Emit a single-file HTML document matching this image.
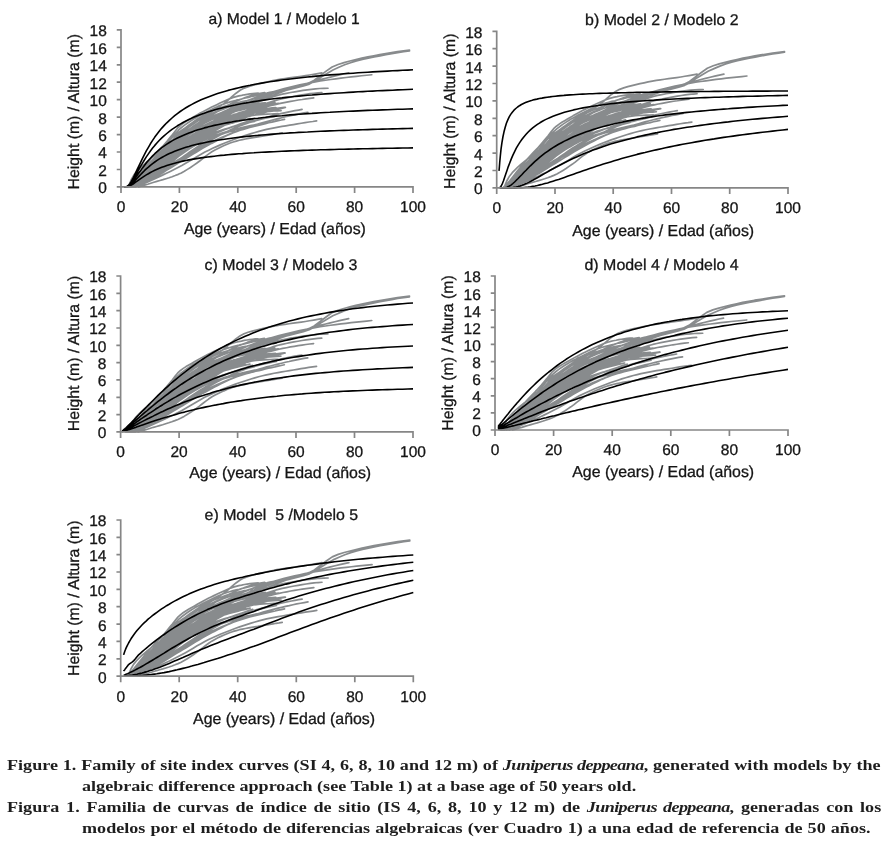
<!DOCTYPE html>
<html lang="en"><head><meta charset="utf-8"><title>Figure 1</title>
<style>
html,body{margin:0;padding:0;background:#fff;}
body{width:891px;height:852px;overflow:hidden;position:relative;font-family:"Liberation Sans",sans-serif;}
svg{position:absolute;left:0;top:0;display:block;will-change:transform;}
svg text{font-family:"Liberation Sans",sans-serif;font-size:15.7px;fill:#151515;stroke:#151515;stroke-width:0.3px;text-rendering:geometricPrecision;}
.tk{font-size:15.5px;}.tt{font-size:15.5px;}.xl{font-size:15.9px;}.yl{font-size:15.8px;}
.cl{position:absolute;white-space:nowrap;font-family:"Liberation Serif",serif;font-weight:bold;font-size:15px;line-height:21px;height:21px;color:#1e1e1e;transform-origin:0 0;transform:scaleX(1.2067);}
.cl i{font-style:italic;letter-spacing:-0.5px;}
</style></head><body>
<svg width="891" height="852" viewBox="0 0 891 852">
<rect width="891" height="852" fill="#fff"/>
<defs><path id="gd" d="M3.00,-0.00L5.04,-0.47L7.08,-0.96L9.11,-1.47L11.15,-2.01L13.19,-2.60L15.23,-3.21L17.27,-3.82L19.31,-4.41L21.34,-4.97L23.38,-5.54L25.42,-6.09L27.46,-6.61L29.50,-7.09L31.54,-7.52L33.57,-7.91L35.61,-8.28L37.65,-8.62L39.69,-8.95L41.73,-9.26L43.77,-9.56L45.80,-9.84L47.84,-10.11L49.88,-10.38L51.92,-10.67L53.96,-10.96L56.00,-11.20L58.03,-11.37L60.07,-11.52L62.11,-11.70L64.15,-11.89L66.19,-12.23L68.23,-12.75L70.26,-13.27L72.30,-13.75L74.34,-14.04L76.38,-14.25L78.42,-14.43L80.46,-14.60L82.49,-14.76L84.53,-14.91L86.57,-15.04L88.61,-15.17L90.65,-15.28L92.69,-15.39L94.72,-15.50L96.76,-15.59L98.80,-15.68 M4.00,-0.00L6.02,-0.40L8.03,-0.84L10.05,-1.31L12.07,-1.84L14.09,-2.43L16.10,-3.04L18.12,-3.65L20.14,-4.24L22.15,-4.81L24.17,-5.39L26.19,-5.95L28.20,-6.47L30.22,-6.95L32.24,-7.38L34.26,-7.78L36.27,-8.16L38.29,-8.52L40.31,-8.85L42.32,-9.16L44.34,-9.44L46.36,-9.71L48.37,-9.98L50.39,-10.25L52.41,-10.54L54.43,-10.81L56.44,-11.05L58.46,-11.23L60.48,-11.40L62.49,-11.58L64.51,-11.79L66.53,-12.13L68.54,-12.59L70.56,-13.01L72.58,-13.40L74.60,-13.71L76.61,-14.00L78.63,-14.24L80.65,-14.44L82.66,-14.61L84.68,-14.76L86.70,-14.90L88.71,-15.03L90.73,-15.16L92.75,-15.28L94.77,-15.40L96.78,-15.50L98.80,-15.60 M3.00,-0.00L4.40,-0.50L5.80,-1.01L7.20,-1.51L8.60,-2.00L10.00,-2.50L11.40,-3.00L12.80,-3.52L14.20,-4.04L15.60,-4.55L17.00,-5.05L18.40,-5.51L19.80,-5.94L21.20,-6.33L22.60,-6.69L24.00,-7.04L25.40,-7.36L26.80,-7.68L28.20,-7.99L29.60,-8.31L31.00,-8.62L32.40,-8.92L33.80,-9.23L35.20,-9.55L36.60,-9.92L38.00,-10.34L39.40,-10.74L40.80,-11.08L42.20,-11.33L43.60,-11.50L45.00,-11.64L46.40,-11.76L47.80,-11.87L49.20,-11.98L50.60,-12.08L52.00,-12.18L53.40,-12.27L54.80,-12.35L56.20,-12.42L57.60,-12.49L59.00,-12.55L60.40,-12.62L61.80,-12.68L63.20,-12.75L64.60,-12.83L66.00,-12.91L67.40,-12.99L68.80,-13.08 M4.00,-0.00L5.57,-0.47L7.15,-0.94L8.72,-1.42L10.30,-1.89L11.87,-2.37L13.45,-2.86L15.02,-3.35L16.60,-3.83L18.17,-4.29L19.74,-4.73L21.32,-5.15L22.89,-5.55L24.47,-5.94L26.04,-6.32L27.62,-6.68L29.19,-7.03L30.77,-7.36L32.34,-7.69L33.91,-8.00L35.49,-8.31L37.06,-8.60L38.64,-8.87L40.21,-9.13L41.79,-9.38L43.36,-9.62L44.94,-9.85L46.51,-10.06L48.09,-10.27L49.66,-10.46L51.23,-10.64L52.81,-10.81L54.38,-10.96L55.96,-11.11L57.53,-11.26L59.11,-11.41L60.68,-11.57L62.26,-11.73L63.83,-11.88L65.40,-12.04L66.98,-12.18L68.55,-12.32L70.13,-12.46L71.70,-12.59L73.28,-12.72L74.85,-12.85L76.43,-12.97L78.00,-13.08 M3.00,-0.00L4.76,-0.48L6.53,-0.98L8.29,-1.49L10.06,-2.02L11.82,-2.57L13.58,-3.16L15.35,-3.75L17.11,-4.33L18.87,-4.88L20.64,-5.37L22.40,-5.84L24.17,-6.28L25.93,-6.71L27.69,-7.11L29.46,-7.49L31.22,-7.85L32.99,-8.19L34.75,-8.52L36.51,-8.84L38.28,-9.13L40.04,-9.41L41.80,-9.67L43.57,-9.91L45.33,-10.15L47.10,-10.37L48.86,-10.58L50.62,-10.77L52.39,-10.94L54.15,-11.11L55.91,-11.27L57.68,-11.42L59.44,-11.56L61.21,-11.69L62.97,-11.81L64.73,-11.93L66.50,-12.04L68.26,-12.14L70.03,-12.23L71.79,-12.31L73.55,-12.39L75.32,-12.47L77.08,-12.54L78.84,-12.61L80.61,-12.68L82.37,-12.74L84.14,-12.80L85.90,-12.86 M4.00,-0.00L5.42,-0.33L6.85,-0.68L8.27,-1.04L9.69,-1.42L11.12,-1.81L12.54,-2.23L13.96,-2.67L15.39,-3.12L16.81,-3.56L18.23,-4.00L19.66,-4.41L21.08,-4.79L22.50,-5.18L23.93,-5.55L25.35,-5.92L26.77,-6.27L28.20,-6.60L29.62,-6.92L31.04,-7.22L32.47,-7.50L33.89,-7.77L35.31,-8.03L36.74,-8.28L38.16,-8.51L39.59,-8.74L41.01,-8.95L42.43,-9.15L43.86,-9.35L45.28,-9.54L46.70,-9.72L48.13,-9.89L49.55,-10.05L50.97,-10.21L52.40,-10.37L53.82,-10.51L55.24,-10.64L56.67,-10.73L58.09,-10.82L59.51,-10.90L60.94,-10.98L62.36,-11.06L63.78,-11.13L65.21,-11.19L66.63,-11.24L68.05,-11.28L69.48,-11.30L70.90,-11.31 M5.00,-0.00L6.36,-0.24L7.71,-0.51L9.07,-0.79L10.43,-1.10L11.79,-1.44L13.14,-1.82L14.50,-2.21L15.86,-2.61L17.22,-3.02L18.57,-3.41L19.93,-3.78L21.29,-4.14L22.65,-4.50L24.00,-4.85L25.36,-5.19L26.72,-5.53L28.08,-5.86L29.43,-6.17L30.79,-6.48L32.15,-6.77L33.51,-7.07L34.86,-7.35L36.22,-7.63L37.58,-7.88L38.94,-8.13L40.29,-8.35L41.65,-8.55L43.01,-8.75L44.37,-8.93L45.72,-9.10L47.08,-9.27L48.44,-9.43L49.80,-9.58L51.15,-9.72L52.51,-9.87L53.87,-10.00L55.23,-10.11L56.58,-10.21L57.94,-10.30L59.30,-10.39L60.66,-10.47L62.01,-10.55L63.37,-10.62L64.73,-10.69L66.09,-10.74L67.44,-10.79L68.80,-10.82 M4.00,-0.00L5.32,-0.24L6.64,-0.49L7.96,-0.76L9.28,-1.04L10.60,-1.34L11.91,-1.67L13.23,-2.02L14.55,-2.40L15.87,-2.77L17.19,-3.15L18.51,-3.51L19.83,-3.86L21.15,-4.18L22.47,-4.51L23.79,-4.83L25.11,-5.14L26.43,-5.44L27.74,-5.74L29.06,-6.01L30.38,-6.27L31.70,-6.52L33.02,-6.77L34.34,-7.00L35.66,-7.22L36.98,-7.44L38.30,-7.64L39.62,-7.84L40.94,-8.04L42.26,-8.23L43.57,-8.42L44.89,-8.60L46.21,-8.78L47.53,-8.94L48.85,-9.08L50.17,-9.22L51.49,-9.33L52.81,-9.44L54.13,-9.54L55.45,-9.64L56.77,-9.72L58.09,-9.81L59.40,-9.88L60.72,-9.96L62.04,-10.02L63.36,-10.09L64.68,-10.15L66.00,-10.20 M5.00,-0.00L6.21,-0.21L7.43,-0.42L8.64,-0.64L9.85,-0.87L11.06,-1.11L12.28,-1.35L13.49,-1.60L14.70,-1.86L15.91,-2.12L17.13,-2.38L18.34,-2.64L19.55,-2.90L20.77,-3.17L21.98,-3.44L23.19,-3.71L24.40,-3.99L25.62,-4.27L26.83,-4.54L28.04,-4.80L29.26,-5.05L30.47,-5.29L31.68,-5.52L32.89,-5.75L34.11,-5.97L35.32,-6.18L36.53,-6.38L37.74,-6.57L38.96,-6.76L40.17,-6.92L41.38,-7.08L42.60,-7.23L43.81,-7.37L45.02,-7.51L46.23,-7.64L47.45,-7.76L48.66,-7.88L49.87,-7.99L51.09,-8.10L52.30,-8.20L53.51,-8.30L54.72,-8.40L55.94,-8.49L57.15,-8.58L58.36,-8.66L59.57,-8.74L60.79,-8.81L62.00,-8.88 M4.00,-0.00L5.28,-0.19L6.55,-0.40L7.83,-0.61L9.11,-0.84L10.38,-1.07L11.66,-1.33L12.94,-1.61L14.21,-1.90L15.49,-2.20L16.77,-2.50L18.04,-2.79L19.32,-3.06L20.60,-3.32L21.87,-3.57L23.15,-3.81L24.43,-4.05L25.70,-4.28L26.98,-4.50L28.26,-4.72L29.53,-4.93L30.81,-5.13L32.09,-5.32L33.36,-5.51L34.64,-5.69L35.91,-5.87L37.19,-6.04L38.47,-6.21L39.74,-6.37L41.02,-6.53L42.30,-6.68L43.57,-6.83L44.85,-6.97L46.13,-7.12L47.40,-7.25L48.68,-7.38L49.96,-7.50L51.23,-7.61L52.51,-7.72L53.79,-7.83L55.06,-7.93L56.34,-8.04L57.62,-8.13L58.89,-8.23L60.17,-8.32L61.45,-8.40L62.72,-8.48L64.00,-8.55 M5.00,-0.00L6.32,-0.18L7.64,-0.36L8.96,-0.55L10.28,-0.74L11.60,-0.94L12.91,-1.14L14.23,-1.35L15.55,-1.56L16.87,-1.77L18.19,-1.99L19.51,-2.22L20.83,-2.45L22.15,-2.70L23.47,-2.96L24.79,-3.22L26.11,-3.49L27.43,-3.74L28.74,-3.99L30.06,-4.21L31.38,-4.42L32.70,-4.62L34.02,-4.82L35.34,-5.00L36.66,-5.18L37.98,-5.35L39.30,-5.52L40.62,-5.67L41.94,-5.82L43.26,-5.97L44.57,-6.11L45.89,-6.24L47.21,-6.37L48.53,-6.48L49.85,-6.59L51.17,-6.68L52.49,-6.77L53.81,-6.85L55.13,-6.93L56.45,-7.00L57.77,-7.08L59.09,-7.15L60.40,-7.22L61.72,-7.30L63.04,-7.37L64.36,-7.44L65.68,-7.50L67.00,-7.57 M6.00,-0.00L7.05,-0.10L8.09,-0.21L9.14,-0.31L10.19,-0.42L11.23,-0.53L12.28,-0.63L13.33,-0.73L14.37,-0.83L15.42,-0.94L16.47,-1.05L17.51,-1.17L18.56,-1.30L19.61,-1.44L20.66,-1.60L21.70,-1.79L22.75,-2.01L23.80,-2.23L24.84,-2.47L25.89,-2.71L26.94,-2.97L27.98,-3.25L29.03,-3.53L30.08,-3.79L31.12,-4.03L32.17,-4.23L33.22,-4.41L34.26,-4.58L35.31,-4.74L36.36,-4.89L37.40,-5.03L38.45,-5.15L39.50,-5.25L40.54,-5.35L41.59,-5.42L42.64,-5.49L43.69,-5.56L44.73,-5.62L45.78,-5.68L46.83,-5.73L47.87,-5.79L48.92,-5.85L49.97,-5.91L51.01,-5.97L52.06,-6.03L53.11,-6.09L54.15,-6.14L55.20,-6.20 M3.00,-0.00L3.98,-0.30L4.97,-0.60L5.95,-0.91L6.93,-1.22L7.91,-1.53L8.90,-1.84L9.88,-2.16L10.86,-2.49L11.85,-2.83L12.83,-3.18L13.81,-3.53L14.80,-3.88L15.78,-4.23L16.76,-4.58L17.74,-4.91L18.73,-5.22L19.71,-5.52L20.69,-5.79L21.68,-6.06L22.66,-6.31L23.64,-6.56L24.63,-6.80L25.61,-7.03L26.59,-7.25L27.57,-7.48L28.56,-7.69L29.54,-7.90L30.52,-8.11L31.51,-8.32L32.49,-8.53L33.47,-8.73L34.46,-8.93L35.44,-9.12L36.42,-9.31L37.40,-9.49L38.39,-9.65L39.37,-9.81L40.35,-9.95L41.34,-10.08L42.32,-10.21L43.30,-10.33L44.29,-10.44L45.27,-10.54L46.25,-10.62L47.23,-10.69L48.22,-10.75L49.20,-10.80 M5.00,-0.00L6.09,-0.16L7.17,-0.33L8.26,-0.50L9.34,-0.69L10.43,-0.88L11.51,-1.08L12.60,-1.28L13.68,-1.50L14.77,-1.72L15.85,-1.95L16.94,-2.17L18.02,-2.40L19.11,-2.62L20.19,-2.84L21.28,-3.06L22.36,-3.28L23.45,-3.51L24.53,-3.73L25.62,-3.95L26.70,-4.17L27.79,-4.39L28.87,-4.59L29.96,-4.79L31.04,-4.99L32.13,-5.18L33.21,-5.37L34.30,-5.56L35.38,-5.74L36.47,-5.92L37.55,-6.08L38.64,-6.23L39.72,-6.37L40.81,-6.49L41.89,-6.60L42.98,-6.71L44.06,-6.81L45.15,-6.91L46.23,-7.00L47.32,-7.08L48.40,-7.17L49.49,-7.26L50.57,-7.35L51.66,-7.43L52.74,-7.51L53.83,-7.60L54.91,-7.67L56.00,-7.75 M2.50,-0.00L3.45,-0.79L4.39,-1.35L5.34,-1.75L6.29,-2.08L7.23,-2.38L8.18,-2.66L9.13,-2.94L10.07,-3.18L11.02,-3.46L11.97,-3.78L12.91,-4.13L13.86,-4.49L14.81,-4.86L15.76,-5.23L16.70,-5.62L17.65,-6.00L18.60,-6.41L19.54,-6.80L20.49,-7.09L21.44,-7.33L22.38,-7.54L23.33,-7.73L24.28,-7.91L25.22,-8.09L26.17,-8.28L27.12,-8.46L28.06,-8.63L29.01,-8.80L29.96,-8.97L30.90,-9.12L31.85,-9.28L32.80,-9.43L33.74,-9.58L34.69,-9.73L35.64,-9.88L36.59,-10.02L37.53,-10.15L38.48,-10.26L39.43,-10.35L40.37,-10.43L41.32,-10.49L42.27,-10.56L43.21,-10.61L44.16,-10.66L45.11,-10.70L46.05,-10.73L47.00,-10.75 M3.00,-0.00L4.04,-0.55L5.09,-1.04L6.13,-1.45L7.17,-1.83L8.21,-2.18L9.26,-2.54L10.30,-2.91L11.34,-3.28L12.38,-3.65L13.43,-4.02L14.47,-4.40L15.51,-4.80L16.55,-5.24L17.60,-5.69L18.64,-6.12L19.68,-6.50L20.72,-6.81L21.77,-7.08L22.81,-7.33L23.85,-7.56L24.89,-7.78L25.94,-7.99L26.98,-8.18L28.02,-8.37L29.06,-8.54L30.11,-8.72L31.15,-8.89L32.19,-9.06L33.23,-9.23L34.28,-9.38L35.32,-9.52L36.36,-9.64L37.40,-9.75L38.45,-9.85L39.49,-9.94L40.53,-10.02L41.57,-10.11L42.62,-10.19L43.66,-10.27L44.70,-10.36L45.74,-10.44L46.79,-10.52L47.83,-10.60L48.87,-10.68L49.91,-10.75L50.96,-10.83L52.00,-10.90 M3.00,-0.00L3.89,-0.29L4.79,-0.59L5.68,-0.89L6.57,-1.20L7.47,-1.50L8.36,-1.82L9.26,-2.13L10.15,-2.45L11.04,-2.79L11.94,-3.12L12.83,-3.47L13.72,-3.81L14.62,-4.15L15.51,-4.50L16.40,-4.85L17.30,-5.21L18.19,-5.57L19.09,-5.90L19.98,-6.19L20.87,-6.46L21.77,-6.71L22.66,-6.94L23.55,-7.16L24.45,-7.37L25.34,-7.58L26.23,-7.78L27.13,-7.97L28.02,-8.15L28.91,-8.32L29.81,-8.47L30.70,-8.61L31.60,-8.74L32.49,-8.87L33.38,-8.99L34.28,-9.10L35.17,-9.21L36.06,-9.31L36.96,-9.40L37.85,-9.49L38.74,-9.57L39.64,-9.64L40.53,-9.71L41.43,-9.78L42.32,-9.85L43.21,-9.90L44.11,-9.96L45.00,-10.00 M1.97,-0.00L3.13,-0.19L4.29,-0.50L5.45,-0.87L6.61,-1.26L7.77,-1.66L8.94,-2.07L10.10,-2.48L11.26,-2.88L12.42,-3.27L13.58,-3.65L14.74,-4.01L15.91,-4.36L17.07,-4.70L18.23,-5.02L19.39,-5.34L20.55,-5.63L21.72,-5.92L22.88,-6.19L24.04,-6.45L25.20,-6.70L26.36,-6.93L27.52,-7.16L28.69,-7.37L29.85,-7.57L31.01,-7.76L32.17,-7.93L33.33,-8.10L34.49,-8.25L35.66,-8.39L36.82,-8.53L37.98,-8.65L39.14,-8.76L40.30,-8.86L41.47,-8.96L42.63,-9.04L43.79,-9.12L44.95,-9.19L46.11,-9.25L47.27,-9.31L48.44,-9.37L49.60,-9.42 M2.10,-0.00L3.28,-0.37L4.46,-0.83L5.63,-1.32L6.81,-1.82L7.99,-2.30L9.16,-2.78L10.34,-3.25L11.52,-3.69L12.69,-4.12L13.87,-4.53L15.05,-4.91L16.22,-5.28L17.40,-5.62L18.58,-5.94L19.75,-6.25L20.93,-6.53L22.11,-6.79L23.28,-7.04L24.46,-7.26L25.64,-7.48L26.81,-7.68L27.99,-7.87L29.17,-8.06L30.34,-8.24L31.52,-8.42L32.70,-8.58L33.87,-8.75L35.05,-8.91L36.23,-9.07L37.40,-9.22L38.58,-9.37L39.76,-9.51L40.93,-9.65L42.11,-9.79L43.29,-9.91L44.46,-10.04L45.64,-10.16L46.81,-10.27L47.99,-10.37L49.17,-10.47L50.34,-10.55 M3.39,-0.00L4.51,-0.20L5.63,-0.51L6.75,-0.85L7.86,-1.21L8.98,-1.58L10.10,-1.95L11.21,-2.32L12.33,-2.68L13.45,-3.03L14.56,-3.38L15.68,-3.71L16.80,-4.03L17.92,-4.34L19.03,-4.64L20.15,-4.92L21.27,-5.20L22.38,-5.46L23.50,-5.71L24.62,-5.96L25.73,-6.19L26.85,-6.41L27.97,-6.62L29.09,-6.82L30.20,-7.01L31.32,-7.19L32.44,-7.36L33.55,-7.52L34.67,-7.67L35.79,-7.81L36.90,-7.94L38.02,-8.06L39.14,-8.18L40.26,-8.29L41.37,-8.39L42.49,-8.48L43.61,-8.57L44.72,-8.65L45.84,-8.72L46.96,-8.79L48.07,-8.86L49.19,-8.92 M1.79,-0.00L2.71,-0.05L3.62,-0.16L4.54,-0.32L5.45,-0.51L6.37,-0.73L7.28,-0.98L8.20,-1.23L9.11,-1.50L10.03,-1.77L10.94,-2.05L11.86,-2.32L12.77,-2.60L13.69,-2.87L14.60,-3.14L15.51,-3.41L16.43,-3.67L17.34,-3.93L18.26,-4.17L19.17,-4.42L20.09,-4.65L21.00,-4.89L21.92,-5.11L22.83,-5.33L23.75,-5.54L24.66,-5.75L25.58,-5.95L26.49,-6.14L27.40,-6.33L28.32,-6.50L29.23,-6.67L30.15,-6.84L31.06,-6.99L31.98,-7.13L32.89,-7.27L33.81,-7.40L34.72,-7.52L35.64,-7.63L36.55,-7.73L37.47,-7.83L38.38,-7.92L39.30,-8.00 M3.98,-0.00L4.99,-0.05L6.01,-0.18L7.03,-0.36L8.05,-0.58L9.07,-0.82L10.09,-1.09L11.11,-1.37L12.13,-1.66L13.15,-1.96L14.17,-2.26L15.19,-2.56L16.21,-2.86L17.23,-3.15L18.25,-3.44L19.27,-3.71L20.29,-3.98L21.31,-4.24L22.33,-4.48L23.35,-4.72L24.37,-4.94L25.39,-5.15L26.41,-5.35L27.42,-5.53L28.44,-5.70L29.46,-5.86L30.48,-6.01L31.50,-6.15L32.52,-6.28L33.54,-6.40L34.56,-6.52L35.58,-6.63L36.60,-6.73L37.62,-6.83L38.64,-6.93L39.66,-7.02L40.68,-7.11L41.70,-7.20L42.72,-7.28L43.74,-7.36L44.76,-7.44L45.78,-7.52 M2.15,-0.00L3.19,-0.02L4.24,-0.08L5.29,-0.19L6.34,-0.34L7.39,-0.51L8.43,-0.72L9.48,-0.95L10.53,-1.19L11.58,-1.45L12.63,-1.72L13.67,-2.00L14.72,-2.28L15.77,-2.57L16.82,-2.85L17.87,-3.13L18.91,-3.41L19.96,-3.68L21.01,-3.94L22.06,-4.19L23.11,-4.44L24.15,-4.67L25.20,-4.89L26.25,-5.11L27.30,-5.30L28.35,-5.49L29.39,-5.67L30.44,-5.84L31.49,-6.00L32.54,-6.15L33.59,-6.30L34.63,-6.44L35.68,-6.58L36.73,-6.72L37.78,-6.85L38.83,-6.97L39.87,-7.10L40.92,-7.22L41.97,-7.34L43.02,-7.46L44.06,-7.58L45.11,-7.69 M1.84,-0.00L2.74,-0.01L3.65,-0.03L4.55,-0.08L5.45,-0.15L6.36,-0.24L7.26,-0.36L8.16,-0.50L9.07,-0.65L9.97,-0.82L10.87,-1.01L11.78,-1.20L12.68,-1.40L13.58,-1.61L14.49,-1.82L15.39,-2.04L16.29,-2.26L17.20,-2.48L18.10,-2.70L19.00,-2.92L19.91,-3.14L20.81,-3.36L21.72,-3.58L22.62,-3.79L23.52,-4.00L24.43,-4.21L25.33,-4.41L26.23,-4.61L27.14,-4.80L28.04,-4.99L28.94,-5.17L29.85,-5.33L30.75,-5.49L31.65,-5.64L32.56,-5.78L33.46,-5.91L34.36,-6.02L35.27,-6.13L36.17,-6.23L37.07,-6.32L37.98,-6.40L38.88,-6.47 M2.55,-0.00L3.49,-0.10L4.42,-0.29L5.35,-0.54L6.28,-0.82L7.21,-1.12L8.14,-1.44L9.07,-1.77L10.00,-2.10L10.94,-2.44L11.87,-2.77L12.80,-3.10L13.73,-3.43L14.66,-3.75L15.59,-4.06L16.52,-4.36L17.46,-4.65L18.39,-4.94L19.32,-5.21L20.25,-5.47L21.18,-5.73L22.11,-5.97L23.04,-6.20L23.98,-6.43L24.91,-6.64L25.84,-6.84L26.77,-7.04L27.70,-7.22L28.63,-7.40L29.56,-7.57L30.50,-7.73L31.43,-7.89L32.36,-8.03L33.29,-8.18L34.22,-8.31L35.15,-8.44L36.08,-8.56L37.02,-8.68L37.95,-8.79L38.88,-8.90L39.81,-9.01L40.74,-9.10 M3.13,-0.00L4.25,-0.03L5.36,-0.13L6.48,-0.29L7.59,-0.48L8.71,-0.70L9.82,-0.96L10.94,-1.22L12.05,-1.50L13.16,-1.79L14.28,-2.09L15.39,-2.38L16.51,-2.68L17.62,-2.97L18.74,-3.25L19.85,-3.53L20.97,-3.80L22.08,-4.06L23.19,-4.31L24.31,-4.55L25.42,-4.77L26.54,-4.99L27.65,-5.19L28.77,-5.38L29.88,-5.55L31.00,-5.72L32.11,-5.87L33.22,-6.01L34.34,-6.14L35.45,-6.26L36.57,-6.38L37.68,-6.49L38.80,-6.59L39.91,-6.68L41.03,-6.77L42.14,-6.86L43.25,-6.94L44.37,-7.02L45.48,-7.10L46.60,-7.18L47.71,-7.25L48.83,-7.32 M2.41,-0.00L3.60,-0.15L4.80,-0.41L6.00,-0.73L7.19,-1.09L8.39,-1.47L9.59,-1.86L10.79,-2.27L11.98,-2.67L13.18,-3.07L14.38,-3.47L15.57,-3.86L16.77,-4.23L17.97,-4.60L19.17,-4.94L20.36,-5.27L21.56,-5.58L22.76,-5.88L23.95,-6.15L25.15,-6.40L26.35,-6.63L27.55,-6.84L28.74,-7.03L29.94,-7.21L31.14,-7.37L32.33,-7.52L33.53,-7.66L34.73,-7.79L35.93,-7.92L37.12,-8.04L38.32,-8.16L39.52,-8.27L40.72,-8.38L41.91,-8.50L43.11,-8.61L44.31,-8.72L45.50,-8.84L46.70,-8.95L47.90,-9.07L49.10,-9.19L50.29,-9.30L51.49,-9.42 M2.28,-0.00L3.35,-0.29L4.42,-0.67L5.50,-1.07L6.57,-1.48L7.65,-1.89L8.72,-2.30L9.79,-2.70L10.87,-3.09L11.94,-3.46L13.01,-3.83L14.09,-4.18L15.16,-4.51L16.23,-4.83L17.31,-5.14L18.38,-5.43L19.46,-5.71L20.53,-5.97L21.60,-6.23L22.68,-6.47L23.75,-6.70L24.82,-6.92L25.90,-7.13L26.97,-7.33L28.04,-7.52L29.12,-7.71L30.19,-7.89L31.26,-8.06L32.34,-8.23L33.41,-8.39L34.49,-8.54L35.56,-8.69L36.63,-8.83L37.71,-8.97L38.78,-9.10L39.85,-9.22L40.93,-9.34L42.00,-9.45L43.07,-9.56L44.15,-9.66L45.22,-9.75L46.29,-9.84 M3.48,-0.00L4.76,-0.08L6.05,-0.27L7.34,-0.53L8.63,-0.85L9.92,-1.20L11.21,-1.57L12.49,-1.96L13.78,-2.36L15.07,-2.76L16.36,-3.16L17.65,-3.55L18.94,-3.93L20.22,-4.30L21.51,-4.65L22.80,-4.98L24.09,-5.30L25.38,-5.59L26.67,-5.87L27.96,-6.12L29.24,-6.35L30.53,-6.56L31.82,-6.75L33.11,-6.94L34.40,-7.10L35.69,-7.26L36.97,-7.41L38.26,-7.55L39.55,-7.68L40.84,-7.80L42.13,-7.92L43.42,-8.04L44.70,-8.16L45.99,-8.27L47.28,-8.38L48.57,-8.49L49.86,-8.60L51.15,-8.70L52.43,-8.81L53.72,-8.91L55.01,-9.01L56.30,-9.11 M3.24,-0.00L4.20,-0.07L5.16,-0.21L6.11,-0.41L7.07,-0.64L8.03,-0.90L8.99,-1.17L9.95,-1.45L10.91,-1.74L11.87,-2.03L12.83,-2.32L13.79,-2.61L14.75,-2.89L15.71,-3.17L16.67,-3.44L17.63,-3.70L18.59,-3.95L19.55,-4.20L20.51,-4.44L21.47,-4.68L22.43,-4.91L23.39,-5.12L24.35,-5.34L25.31,-5.54L26.27,-5.74L27.23,-5.93L28.19,-6.12L29.15,-6.30L30.11,-6.46L31.07,-6.62L32.03,-6.77L32.99,-6.91L33.95,-7.05L34.91,-7.17L35.87,-7.28L36.83,-7.39L37.79,-7.49L38.75,-7.58L39.71,-7.66L40.67,-7.73L41.63,-7.80L42.59,-7.86 M2.14,-0.00L3.17,-0.06L4.19,-0.19L5.22,-0.39L6.25,-0.62L7.27,-0.89L8.30,-1.18L9.32,-1.49L10.35,-1.81L11.38,-2.13L12.40,-2.44L13.43,-2.76L14.46,-3.07L15.48,-3.37L16.51,-3.67L17.54,-3.95L18.56,-4.22L19.59,-4.48L20.62,-4.73L21.64,-4.96L22.67,-5.18L23.70,-5.39L24.72,-5.58L25.75,-5.77L26.77,-5.94L27.80,-6.10L28.83,-6.25L29.85,-6.40L30.88,-6.53L31.91,-6.66L32.93,-6.78L33.96,-6.90L34.99,-7.01L36.01,-7.12L37.04,-7.22L38.07,-7.32L39.09,-7.41L40.12,-7.50L41.14,-7.59L42.17,-7.67L43.20,-7.75L44.22,-7.83 M2.00,-0.00L3.32,-0.11L4.63,-0.35L5.95,-0.67L7.27,-1.03L8.58,-1.42L9.90,-1.83L11.21,-2.25L12.53,-2.66L13.85,-3.07L15.16,-3.46L16.48,-3.84L17.79,-4.20L19.11,-4.55L20.43,-4.87L21.74,-5.18L23.06,-5.47L24.38,-5.74L25.69,-5.99L27.01,-6.23L28.32,-6.46L29.64,-6.68L30.96,-6.88L32.27,-7.08L33.59,-7.26L34.90,-7.43L36.22,-7.59L37.54,-7.75L38.85,-7.89L40.17,-8.03L41.49,-8.16L42.80,-8.28L44.12,-8.39L45.43,-8.50L46.75,-8.60L48.07,-8.69L49.38,-8.78L50.70,-8.86L52.01,-8.93L53.33,-9.00L54.65,-9.06L55.96,-9.12 M2.04,-0.00L2.97,-0.15L3.91,-0.38L4.85,-0.65L5.79,-0.95L6.73,-1.25L7.67,-1.57L8.61,-1.88L9.54,-2.20L10.48,-2.51L11.42,-2.82L12.36,-3.12L13.30,-3.41L14.24,-3.70L15.18,-3.98L16.11,-4.25L17.05,-4.52L17.99,-4.78L18.93,-5.04L19.87,-5.28L20.81,-5.53L21.75,-5.76L22.68,-6.00L23.62,-6.22L24.56,-6.44L25.50,-6.66L26.44,-6.87L27.38,-7.08L28.32,-7.28L29.26,-7.48L30.19,-7.66L31.13,-7.84L32.07,-8.01L33.01,-8.17L33.95,-8.32L34.89,-8.46L35.83,-8.59L36.76,-8.72L37.70,-8.84L38.64,-8.94L39.58,-9.04L40.52,-9.13 M2.39,-0.00L3.61,-0.09L4.82,-0.29L6.04,-0.55L7.26,-0.85L8.48,-1.18L9.70,-1.53L10.92,-1.89L12.14,-2.25L13.36,-2.61L14.58,-2.98L15.80,-3.34L17.02,-3.70L18.24,-4.05L19.46,-4.39L20.68,-4.73L21.90,-5.05L23.12,-5.36L24.34,-5.66L25.56,-5.95L26.78,-6.22L28.00,-6.48L29.22,-6.71L30.44,-6.93L31.66,-7.13L32.88,-7.31L34.10,-7.48L35.32,-7.64L36.54,-7.78L37.76,-7.91L38.98,-8.02L40.19,-8.13L41.41,-8.23L42.63,-8.31L43.85,-8.40L45.07,-8.47L46.29,-8.54L47.51,-8.61L48.73,-8.67L49.95,-8.73L51.17,-8.80L52.39,-8.86 M3.14,-0.00L4.18,-0.18L5.22,-0.47L6.27,-0.82L7.31,-1.19L8.35,-1.58L9.40,-1.97L10.44,-2.37L11.48,-2.77L12.52,-3.16L13.57,-3.55L14.61,-3.92L15.65,-4.29L16.70,-4.65L17.74,-4.99L18.78,-5.33L19.83,-5.64L20.87,-5.95L21.91,-6.24L22.95,-6.51L24.00,-6.77L25.04,-7.02L26.08,-7.24L27.13,-7.45L28.17,-7.65L29.21,-7.81L30.25,-7.97L31.30,-8.10L32.34,-8.23L33.38,-8.35L34.43,-8.45L35.47,-8.55L36.51,-8.63L37.56,-8.71L38.60,-8.79L39.64,-8.86L40.68,-8.92L41.73,-8.98L42.77,-9.04L43.81,-9.10L44.86,-9.15L45.90,-9.21 M3.87,-0.00L4.76,-0.12L5.65,-0.32L6.54,-0.58L7.43,-0.86L8.32,-1.16L9.21,-1.47L10.10,-1.79L10.99,-2.11L11.88,-2.44L12.78,-2.77L13.67,-3.09L14.56,-3.41L15.45,-3.73L16.34,-4.05L17.23,-4.37L18.12,-4.68L19.01,-4.99L19.90,-5.29L20.79,-5.59L21.68,-5.88L22.57,-6.17L23.47,-6.45L24.36,-6.73L25.25,-6.99L26.14,-7.24L27.03,-7.49L27.92,-7.72L28.81,-7.93L29.70,-8.13L30.59,-8.30L31.48,-8.47L32.37,-8.61L33.27,-8.75L34.16,-8.87L35.05,-8.98L35.94,-9.07L36.83,-9.16L37.72,-9.24L38.61,-9.31L39.50,-9.37L40.39,-9.43 M3.70,-0.00L4.85,-0.02L6.01,-0.11L7.16,-0.26L8.31,-0.45L9.47,-0.69L10.62,-0.96L11.77,-1.25L12.93,-1.56L14.08,-1.88L15.23,-2.21L16.39,-2.55L17.54,-2.88L18.70,-3.21L19.85,-3.52L21.00,-3.83L22.16,-4.13L23.31,-4.41L24.46,-4.67L25.62,-4.91L26.77,-5.14L27.92,-5.34L29.08,-5.52L30.23,-5.68L31.39,-5.82L32.54,-5.95L33.69,-6.07L34.85,-6.18L36.00,-6.28L37.15,-6.37L38.31,-6.46L39.46,-6.55L40.62,-6.63L41.77,-6.71L42.92,-6.79L44.08,-6.88L45.23,-6.97L46.38,-7.05L47.54,-7.15L48.69,-7.24L49.84,-7.33L51.00,-7.43 M2.15,-0.00L3.42,-0.13L4.68,-0.40L5.94,-0.75L7.21,-1.15L8.47,-1.58L9.73,-2.02L11.00,-2.47L12.26,-2.91L13.52,-3.35L14.79,-3.78L16.05,-4.19L17.31,-4.59L18.57,-4.97L19.84,-5.33L21.10,-5.67L22.36,-5.99L23.63,-6.30L24.89,-6.58L26.15,-6.85L27.42,-7.10L28.68,-7.33L29.94,-7.54L31.21,-7.73L32.47,-7.91L33.73,-8.08L34.99,-8.23L36.26,-8.37L37.52,-8.50L38.78,-8.62L40.05,-8.73L41.31,-8.83L42.57,-8.93L43.84,-9.02L45.10,-9.11L46.36,-9.18L47.63,-9.26L48.89,-9.33L50.15,-9.40L51.42,-9.46L52.68,-9.52L53.94,-9.58 M2.79,-0.00L3.88,-0.18L4.97,-0.46L6.06,-0.77L7.15,-1.11L8.23,-1.46L9.32,-1.82L10.41,-2.17L11.50,-2.53L12.59,-2.88L13.68,-3.23L14.77,-3.57L15.85,-3.91L16.94,-4.23L18.03,-4.55L19.12,-4.86L20.21,-5.16L21.30,-5.45L22.38,-5.73L23.47,-5.99L24.56,-6.25L25.65,-6.49L26.74,-6.72L27.83,-6.93L28.92,-7.12L30.00,-7.30L31.09,-7.46L32.18,-7.61L33.27,-7.74L34.36,-7.86L35.45,-7.98L36.54,-8.08L37.62,-8.17L38.71,-8.26L39.80,-8.33L40.89,-8.40L41.98,-8.47L43.07,-8.53L44.15,-8.59L45.24,-8.64L46.33,-8.69L47.42,-8.74 M2.79,-0.00L3.92,-0.13L5.06,-0.35L6.19,-0.64L7.33,-0.95L8.46,-1.29L9.60,-1.65L10.74,-2.01L11.87,-2.37L13.01,-2.73L14.14,-3.09L15.28,-3.44L16.41,-3.78L17.55,-4.12L18.69,-4.44L19.82,-4.75L20.96,-5.04L22.09,-5.33L23.23,-5.60L24.36,-5.85L25.50,-6.09L26.64,-6.32L27.77,-6.54L28.91,-6.74L30.04,-6.93L31.18,-7.11L32.31,-7.28L33.45,-7.44L34.58,-7.59L35.72,-7.73L36.86,-7.87L37.99,-8.00L39.13,-8.13L40.26,-8.25L41.40,-8.37L42.53,-8.48L43.67,-8.59L44.81,-8.69L45.94,-8.80L47.08,-8.90L48.21,-8.99L49.35,-9.09 M2.76,-0.00L3.98,-0.29L5.19,-0.69L6.41,-1.13L7.63,-1.59L8.85,-2.05L10.07,-2.50L11.28,-2.95L12.50,-3.37L13.72,-3.79L14.94,-4.18L16.16,-4.56L17.38,-4.92L18.59,-5.26L19.81,-5.59L21.03,-5.90L22.25,-6.19L23.47,-6.47L24.68,-6.73L25.90,-6.98L27.12,-7.21L28.34,-7.43L29.56,-7.64L30.77,-7.83L31.99,-8.01L33.21,-8.18L34.43,-8.34L35.65,-8.48L36.87,-8.62L38.08,-8.75L39.30,-8.87L40.52,-8.98L41.74,-9.08L42.96,-9.17L44.17,-9.25L45.39,-9.33L46.61,-9.41L47.83,-9.47L49.05,-9.53L50.26,-9.59L51.48,-9.64L52.70,-9.69 M3.50,-0.00L4.75,-0.14L6.00,-0.42L7.26,-0.76L8.51,-1.14L9.76,-1.54L11.01,-1.95L12.26,-2.36L13.51,-2.76L14.76,-3.16L16.02,-3.53L17.27,-3.90L18.52,-4.25L19.77,-4.58L21.02,-4.90L22.27,-5.21L23.52,-5.50L24.78,-5.77L26.03,-6.04L27.28,-6.29L28.53,-6.52L29.78,-6.75L31.03,-6.96L32.29,-7.16L33.54,-7.34L34.79,-7.51L36.04,-7.67L37.29,-7.81L38.54,-7.94L39.79,-8.06L41.05,-8.16L42.30,-8.26L43.55,-8.34L44.80,-8.42L46.05,-8.48L47.30,-8.54L48.55,-8.58L49.81,-8.63L51.06,-8.66L52.31,-8.70L53.56,-8.72L54.81,-8.75 M3.94,-0.00L5.14,-0.21L6.34,-0.55L7.53,-0.94L8.73,-1.36L9.93,-1.79L11.12,-2.21L12.32,-2.64L13.52,-3.04L14.71,-3.44L15.91,-3.82L17.11,-4.17L18.30,-4.51L19.50,-4.83L20.70,-5.13L21.89,-5.42L23.09,-5.68L24.29,-5.94L25.48,-6.18L26.68,-6.41L27.88,-6.63L29.07,-6.84L30.27,-7.05L31.47,-7.24L32.66,-7.43L33.86,-7.61L35.06,-7.78L36.25,-7.95L37.45,-8.10L38.65,-8.23L39.84,-8.36L41.04,-8.47L42.24,-8.58L43.44,-8.67L44.63,-8.75L45.83,-8.82L47.03,-8.88L48.22,-8.93L49.42,-8.97L50.62,-9.01L51.81,-9.05L53.01,-9.08 M2.83,-0.00L4.01,-0.15L5.19,-0.40L6.37,-0.70L7.55,-1.02L8.73,-1.36L9.91,-1.71L11.09,-2.06L12.27,-2.41L13.45,-2.75L14.63,-3.09L15.81,-3.42L16.99,-3.74L18.18,-4.05L19.36,-4.35L20.54,-4.65L21.72,-4.94L22.90,-5.21L24.08,-5.49L25.26,-5.75L26.44,-6.00L27.62,-6.25L28.80,-6.48L29.98,-6.70L31.16,-6.91L32.34,-7.10L33.52,-7.28L34.71,-7.45L35.89,-7.61L37.07,-7.75L38.25,-7.88L39.43,-8.00L40.61,-8.11L41.79,-8.21L42.97,-8.29L44.15,-8.37L45.33,-8.44L46.51,-8.51L47.69,-8.57L48.87,-8.62L50.06,-8.67L51.24,-8.72 M3.79,-0.00L4.87,-0.13L5.96,-0.36L7.04,-0.63L8.12,-0.94L9.21,-1.27L10.29,-1.61L11.38,-1.96L12.46,-2.32L13.55,-2.67L14.63,-3.03L15.72,-3.38L16.80,-3.72L17.88,-4.06L18.97,-4.40L20.05,-4.72L21.14,-5.03L22.22,-5.34L23.31,-5.63L24.39,-5.91L25.47,-6.17L26.56,-6.42L27.64,-6.65L28.73,-6.87L29.81,-7.07L30.90,-7.26L31.98,-7.43L33.07,-7.60L34.15,-7.75L35.23,-7.89L36.32,-8.03L37.40,-8.15L38.49,-8.28L39.57,-8.39L40.66,-8.51L41.74,-8.62L42.82,-8.73L43.91,-8.84L44.99,-8.95L46.08,-9.05L47.16,-9.16L48.25,-9.27 M3.47,-0.00L4.49,-0.06L5.51,-0.20L6.53,-0.39L7.55,-0.62L8.57,-0.87L9.59,-1.15L10.61,-1.44L11.62,-1.74L12.64,-2.04L13.66,-2.35L14.68,-2.65L15.70,-2.95L16.72,-3.24L17.74,-3.53L18.75,-3.81L19.77,-4.08L20.79,-4.34L21.81,-4.58L22.83,-4.82L23.85,-5.05L24.87,-5.27L25.88,-5.48L26.90,-5.68L27.92,-5.87L28.94,-6.06L29.96,-6.24L30.98,-6.41L32.00,-6.58L33.01,-6.74L34.03,-6.90L35.05,-7.06L36.07,-7.20L37.09,-7.35L38.11,-7.49L39.13,-7.62L40.14,-7.76L41.16,-7.88L42.18,-8.01L43.20,-8.12L44.22,-8.24L45.24,-8.35 M1.68,-0.00L2.76,-0.01L3.84,-0.05L4.92,-0.11L6.00,-0.21L7.08,-0.34L8.16,-0.49L9.25,-0.67L10.33,-0.87L11.41,-1.08L12.49,-1.31L13.57,-1.54L14.65,-1.79L15.73,-2.03L16.81,-2.28L17.90,-2.52L18.98,-2.77L20.06,-3.01L21.14,-3.25L22.22,-3.48L23.30,-3.70L24.38,-3.92L25.46,-4.14L26.55,-4.34L27.63,-4.55L28.71,-4.74L29.79,-4.93L30.87,-5.11L31.95,-5.29L33.03,-5.46L34.12,-5.62L35.20,-5.78L36.28,-5.93L37.36,-6.08L38.44,-6.22L39.52,-6.35L40.60,-6.48L41.68,-6.60L42.77,-6.72L43.85,-6.83L44.93,-6.93L46.01,-7.03 M1.84,-0.00L2.87,-0.07L3.90,-0.21L4.93,-0.42L5.97,-0.66L7.00,-0.92L8.03,-1.21L9.07,-1.51L10.10,-1.82L11.13,-2.14L12.16,-2.46L13.20,-2.77L14.23,-3.08L15.26,-3.39L16.29,-3.69L17.33,-3.98L18.36,-4.26L19.39,-4.54L20.43,-4.80L21.46,-5.05L22.49,-5.28L23.52,-5.51L24.56,-5.72L25.59,-5.92L26.62,-6.11L27.65,-6.29L28.69,-6.45L29.72,-6.61L30.75,-6.76L31.79,-6.90L32.82,-7.03L33.85,-7.16L34.88,-7.28L35.92,-7.40L36.95,-7.52L37.98,-7.62L39.01,-7.73L40.05,-7.83L41.08,-7.93L42.11,-8.03L43.15,-8.12L44.18,-8.21 M1.99,-0.00L2.98,-0.13L3.97,-0.35L4.97,-0.63L5.96,-0.94L6.95,-1.26L7.94,-1.60L8.94,-1.94L9.93,-2.28L10.92,-2.62L11.92,-2.95L12.91,-3.28L13.90,-3.59L14.89,-3.89L15.89,-4.19L16.88,-4.48L17.87,-4.75L18.86,-5.02L19.86,-5.29L20.85,-5.54L21.84,-5.80L22.84,-6.04L23.83,-6.29L24.82,-6.53L25.81,-6.77L26.81,-7.00L27.80,-7.23L28.79,-7.46L29.78,-7.67L30.78,-7.87L31.77,-8.07L32.76,-8.25L33.76,-8.42L34.75,-8.57L35.74,-8.72L36.73,-8.85L37.73,-8.96L38.72,-9.07L39.71,-9.16L40.71,-9.24L41.70,-9.31L42.69,-9.37 M3.36,-0.00L4.59,-0.12L5.82,-0.33L7.04,-0.61L8.27,-0.91L9.50,-1.24L10.73,-1.58L11.96,-1.91L13.19,-2.24L14.42,-2.56L15.65,-2.87L16.88,-3.17L18.11,-3.46L19.34,-3.73L20.57,-4.00L21.79,-4.26L23.02,-4.51L24.25,-4.77L25.48,-5.02L26.71,-5.28L27.94,-5.53L29.17,-5.80L30.40,-6.07L31.63,-6.33L32.86,-6.58L34.09,-6.82L35.31,-7.05L36.54,-7.27L37.77,-7.46L39.00,-7.64L40.23,-7.79L41.46,-7.92L42.69,-8.03L43.92,-8.13L45.15,-8.20L46.38,-8.25L47.61,-8.29L48.83,-8.32L50.06,-8.34L51.29,-8.36L52.52,-8.38L53.75,-8.39 M3.10,-0.00L4.23,-0.32L5.35,-0.73L6.48,-1.16L7.61,-1.60L8.74,-2.04L9.87,-2.46L11.00,-2.88L12.13,-3.28L13.26,-3.67L14.39,-4.04L15.52,-4.40L16.65,-4.74L17.77,-5.07L18.90,-5.39L20.03,-5.69L21.16,-5.97L22.29,-6.25L23.42,-6.51L24.55,-6.76L25.68,-7.00L26.81,-7.22L27.94,-7.44L29.07,-7.64L30.19,-7.83L31.32,-8.01L32.45,-8.18L33.58,-8.34L34.71,-8.48L35.84,-8.62L36.97,-8.75L38.10,-8.87L39.23,-8.98L40.36,-9.08L41.49,-9.18L42.61,-9.26L43.74,-9.34L44.87,-9.42L46.00,-9.48L47.13,-9.55L48.26,-9.60L49.39,-9.65 M2.49,-0.00L3.73,-0.07L4.96,-0.22L6.20,-0.43L7.44,-0.68L8.68,-0.96L9.92,-1.26L11.16,-1.58L12.39,-1.90L13.63,-2.22L14.87,-2.55L16.11,-2.88L17.35,-3.20L18.59,-3.51L19.82,-3.82L21.06,-4.12L22.30,-4.41L23.54,-4.68L24.78,-4.94L26.02,-5.19L27.25,-5.42L28.49,-5.63L29.73,-5.83L30.97,-6.01L32.21,-6.18L33.45,-6.34L34.68,-6.49L35.92,-6.63L37.16,-6.77L38.40,-6.89L39.64,-7.02L40.87,-7.13L42.11,-7.25L43.35,-7.36L44.59,-7.47L45.83,-7.57L47.07,-7.68L48.30,-7.78L49.54,-7.88L50.78,-7.97L52.02,-8.06L53.26,-8.15 M3.62,-0.00L4.52,-0.08L5.43,-0.23L6.34,-0.43L7.25,-0.67L8.16,-0.92L9.06,-1.19L9.97,-1.46L10.88,-1.75L11.79,-2.03L12.70,-2.32L13.60,-2.60L14.51,-2.88L15.42,-3.15L16.33,-3.42L17.24,-3.67L18.14,-3.92L19.05,-4.16L19.96,-4.39L20.87,-4.61L21.78,-4.83L22.68,-5.03L23.59,-5.22L24.50,-5.40L25.41,-5.58L26.32,-5.74L27.22,-5.90L28.13,-6.05L29.04,-6.20L29.95,-6.35L30.86,-6.48L31.76,-6.62L32.67,-6.75L33.58,-6.87L34.49,-7.00L35.40,-7.12L36.30,-7.23L37.21,-7.34L38.12,-7.45L39.03,-7.56L39.94,-7.67L40.84,-7.77" fill="none" stroke="#888b8d" stroke-width="1.7" stroke-linejoin="round" stroke-linecap="round" vector-effect="non-scaling-stroke"/></defs>
<g>
<use href="#gd" transform="translate(121.00,186.90) scale(2.9200,8.7222)"/>
<path d="M123.9,186.9L124.1,186.9L124.6,186.9L125.2,186.8L125.9,186.7L126.8,186.4L127.8,185.8L128.9,184.9L130.0,183.4L131.3,181.4L132.7,179.0L134.1,176.1L135.6,172.9L137.2,169.4L138.9,165.8L140.7,162.1L142.5,158.3L144.4,154.6L146.3,150.9L148.4,147.3L150.4,143.8L152.6,140.4L154.8,137.1L157.1,134.0L159.4,131.0L161.8,128.1L164.3,125.4L166.8,122.8L169.4,120.3L172.0,118.0L174.7,115.7L177.4,113.6L180.2,111.5L183.0,109.6L185.9,107.8L188.9,106.0L191.9,104.4L194.9,102.8L198.0,101.3L201.1,99.8L204.3,98.5L207.6,97.2L210.9,95.9L214.2,94.7L217.6,93.6L221.0,92.5L224.5,91.4L228.0,90.4L231.6,89.5L235.2,88.6L238.8,87.7L242.5,86.9L246.3,86.0L250.1,85.3L253.9,84.5L257.8,83.8L261.7,83.1L265.6,82.5L269.6,81.8L273.7,81.2L277.7,80.6L281.9,80.0L286.0,79.5L290.2,79.0L294.5,78.5L298.8,78.0L303.1,77.5L307.5,77.0L311.9,76.6L316.3,76.1L320.8,75.7L325.3,75.3L329.9,74.9L334.4,74.6L339.1,74.2L343.8,73.8L348.5,73.5L353.2,73.2L358.0,72.8L362.8,72.5L367.7,72.2L372.6,71.9L377.5,71.6L382.5,71.4L387.5,71.1L392.5,70.8L397.6,70.6L402.7,70.3L407.8,70.1L413.0,69.8 M123.9,186.9L124.1,186.9L124.6,186.9L125.2,186.9L125.9,186.8L126.8,186.5L127.8,186.0L128.9,185.2L130.0,184.0L131.3,182.3L132.7,180.3L134.1,177.9L135.6,175.2L137.2,172.3L138.9,169.3L140.7,166.2L142.5,163.1L144.4,160.0L146.3,156.9L148.4,153.9L150.4,151.0L152.6,148.1L154.8,145.4L157.1,142.8L159.4,140.3L161.8,137.9L164.3,135.6L166.8,133.5L169.4,131.4L172.0,129.4L174.7,127.6L177.4,125.8L180.2,124.1L183.0,122.5L185.9,121.0L188.9,119.5L191.9,118.1L194.9,116.8L198.0,115.5L201.1,114.3L204.3,113.2L207.6,112.1L210.9,111.1L214.2,110.1L217.6,109.1L221.0,108.2L224.5,107.3L228.0,106.5L231.6,105.7L235.2,105.0L238.8,104.2L242.5,103.5L246.3,102.9L250.1,102.2L253.9,101.6L257.8,101.0L261.7,100.4L265.6,99.9L269.6,99.3L273.7,98.8L277.7,98.3L281.9,97.9L286.0,97.4L290.2,97.0L294.5,96.5L298.8,96.1L303.1,95.7L307.5,95.3L311.9,95.0L316.3,94.6L320.8,94.3L325.3,93.9L329.9,93.6L334.4,93.3L339.1,93.0L343.8,92.7L348.5,92.4L353.2,92.1L358.0,91.8L362.8,91.6L367.7,91.3L372.6,91.1L377.5,90.8L382.5,90.6L387.5,90.4L392.5,90.2L397.6,89.9L402.7,89.7L407.8,89.5L413.0,89.3 M123.9,186.9L124.1,186.9L124.6,186.9L125.2,186.9L125.9,186.8L126.8,186.6L127.8,186.2L128.9,185.5L130.0,184.6L131.3,183.2L132.7,181.6L134.1,179.7L135.6,177.6L137.2,175.3L138.9,172.8L140.7,170.4L142.5,167.9L144.4,165.4L146.3,162.9L148.4,160.5L150.4,158.2L152.6,155.9L154.8,153.7L157.1,151.6L159.4,149.6L161.8,147.7L164.3,145.9L166.8,144.2L169.4,142.5L172.0,140.9L174.7,139.4L177.4,138.0L180.2,136.7L183.0,135.4L185.9,134.2L188.9,133.0L191.9,131.9L194.9,130.8L198.0,129.8L201.1,128.9L204.3,127.9L207.6,127.1L210.9,126.2L214.2,125.4L217.6,124.7L221.0,124.0L224.5,123.3L228.0,122.6L231.6,122.0L235.2,121.3L238.8,120.8L242.5,120.2L246.3,119.7L250.1,119.1L253.9,118.6L257.8,118.2L261.7,117.7L265.6,117.3L269.6,116.8L273.7,116.4L277.7,116.0L281.9,115.7L286.0,115.3L290.2,114.9L294.5,114.6L298.8,114.3L303.1,114.0L307.5,113.6L311.9,113.4L316.3,113.1L320.8,112.8L325.3,112.5L329.9,112.3L334.4,112.0L339.1,111.8L343.8,111.5L348.5,111.3L353.2,111.1L358.0,110.9L362.8,110.6L367.7,110.4L372.6,110.2L377.5,110.1L382.5,109.9L387.5,109.7L392.5,109.5L397.6,109.3L402.7,109.2L407.8,109.0L413.0,108.9 M123.9,186.9L124.1,186.9L124.6,186.9L125.2,186.9L125.9,186.8L126.8,186.7L127.8,186.4L128.9,185.9L130.0,185.1L131.3,184.2L132.7,182.9L134.1,181.5L135.6,179.9L137.2,178.2L138.9,176.4L140.7,174.5L142.5,172.6L144.4,170.7L146.3,168.9L148.4,167.1L150.4,165.3L152.6,163.6L154.8,162.0L157.1,160.4L159.4,158.9L161.8,157.5L164.3,156.1L166.8,154.8L169.4,153.6L172.0,152.4L174.7,151.3L177.4,150.2L180.2,149.2L183.0,148.3L185.9,147.3L188.9,146.5L191.9,145.6L194.9,144.8L198.0,144.1L201.1,143.4L204.3,142.7L207.6,142.0L210.9,141.4L214.2,140.8L217.6,140.2L221.0,139.7L224.5,139.2L228.0,138.7L231.6,138.2L235.2,137.7L238.8,137.3L242.5,136.9L246.3,136.5L250.1,136.1L253.9,135.7L257.8,135.4L261.7,135.0L265.6,134.7L269.6,134.4L273.7,134.1L277.7,133.8L281.9,133.5L286.0,133.2L290.2,132.9L294.5,132.7L298.8,132.4L303.1,132.2L307.5,132.0L311.9,131.7L316.3,131.5L320.8,131.3L325.3,131.1L329.9,130.9L334.4,130.7L339.1,130.5L343.8,130.4L348.5,130.2L353.2,130.0L358.0,129.9L362.8,129.7L367.7,129.6L372.6,129.4L377.5,129.3L382.5,129.1L387.5,129.0L392.5,128.9L397.6,128.7L402.7,128.6L407.8,128.5L413.0,128.4 M123.9,186.9L124.1,186.9L124.6,186.9L125.2,186.9L125.9,186.8L126.8,186.7L127.8,186.5L128.9,186.2L130.0,185.7L131.3,185.1L132.7,184.3L134.1,183.3L135.6,182.2L137.2,181.1L138.9,179.9L140.7,178.6L142.5,177.4L144.4,176.1L146.3,174.9L148.4,173.7L150.4,172.5L152.6,171.4L154.8,170.3L157.1,169.3L159.4,168.3L161.8,167.3L164.3,166.4L166.8,165.5L169.4,164.7L172.0,163.9L174.7,163.2L177.4,162.5L180.2,161.8L183.0,161.1L185.9,160.5L188.9,159.9L191.9,159.4L194.9,158.9L198.0,158.4L201.1,157.9L204.3,157.4L207.6,157.0L210.9,156.6L214.2,156.2L217.6,155.8L221.0,155.4L224.5,155.1L228.0,154.7L231.6,154.4L235.2,154.1L238.8,153.8L242.5,153.6L246.3,153.3L250.1,153.0L253.9,152.8L257.8,152.5L261.7,152.3L265.6,152.1L269.6,151.9L273.7,151.7L277.7,151.5L281.9,151.3L286.0,151.1L290.2,150.9L294.5,150.8L298.8,150.6L303.1,150.4L307.5,150.3L311.9,150.1L316.3,150.0L320.8,149.8L325.3,149.7L329.9,149.6L334.4,149.5L339.1,149.3L343.8,149.2L348.5,149.1L353.2,149.0L358.0,148.9L362.8,148.8L367.7,148.7L372.6,148.6L377.5,148.5L382.5,148.4L387.5,148.3L392.5,148.2L397.6,148.1L402.7,148.0L407.8,148.0L413.0,147.9" fill="none" stroke="#000" stroke-width="1.6" stroke-linejoin="round"/>
<path d="M121.0,29.9L121.0,186.9L413.0,186.9 M117.6,186.9L121.0,186.9 M117.6,169.5L121.0,169.5 M117.6,152.0L121.0,152.0 M117.6,134.6L121.0,134.6 M117.6,117.1L121.0,117.1 M117.6,99.7L121.0,99.7 M117.6,82.2L121.0,82.2 M117.6,64.8L121.0,64.8 M117.6,47.3L121.0,47.3 M117.6,29.9L121.0,29.9 M121.0,186.9L121.0,192.1 M179.4,186.9L179.4,192.1 M237.8,186.9L237.8,192.1 M296.2,186.9L296.2,192.1 M354.6,186.9L354.6,192.1 M413.0,186.9L413.0,192.1" fill="none" stroke="#868686" stroke-width="1.7" stroke-linecap="square"/>
<text x="106.8" y="193.3" text-anchor="end" class="tk">0</text>
<text x="106.8" y="175.9" text-anchor="end" class="tk">2</text>
<text x="106.8" y="158.4" text-anchor="end" class="tk">4</text>
<text x="106.8" y="141.0" text-anchor="end" class="tk">6</text>
<text x="106.8" y="123.5" text-anchor="end" class="tk">8</text>
<text x="106.8" y="106.1" text-anchor="end" class="tk">10</text>
<text x="106.8" y="88.6" text-anchor="end" class="tk">12</text>
<text x="106.8" y="71.2" text-anchor="end" class="tk">14</text>
<text x="106.8" y="53.7" text-anchor="end" class="tk">16</text>
<text x="106.8" y="36.3" text-anchor="end" class="tk">18</text>
<text x="121.0" y="212.3" text-anchor="middle" class="tk">0</text>
<text x="179.4" y="212.3" text-anchor="middle" class="tk">20</text>
<text x="237.8" y="212.3" text-anchor="middle" class="tk">40</text>
<text x="296.2" y="212.3" text-anchor="middle" class="tk">60</text>
<text x="354.6" y="212.3" text-anchor="middle" class="tk">80</text>
<text x="413.0" y="212.3" text-anchor="middle" class="tk">100</text>
<text x="208.6" y="24.4" textLength="151.0" lengthAdjust="spacingAndGlyphs" class="tt">a) Model 1 / Modelo 1</text>
<text x="274.9" y="233.6" text-anchor="middle" class="xl">Age (years) / Edad (a&#241;os)</text>
<text transform="translate(78.9,111.7) rotate(-90)" text-anchor="middle" class="yl">Height (m) / Altura (m)</text>
</g>
<g>
<use href="#gd" transform="translate(496.70,187.90) scale(2.9130,8.7000)"/>
<path d="M499.0,170.8L499.3,168.0L499.7,162.7L500.3,156.2L501.0,149.4L501.9,142.9L502.9,137.0L504.0,131.8L505.2,127.2L506.4,123.3L507.8,119.9L509.2,116.9L510.7,114.4L512.3,112.2L514.0,110.2L515.8,108.5L517.6,107.0L519.5,105.7L521.4,104.5L523.5,103.5L525.5,102.6L527.7,101.7L529.9,100.9L532.2,100.3L534.5,99.6L536.9,99.1L539.4,98.5L541.9,98.1L544.5,97.6L547.1,97.2L549.8,96.9L552.5,96.5L555.3,96.2L558.1,95.9L561.0,95.6L563.9,95.4L566.9,95.1L570.0,94.9L573.1,94.7L576.2,94.5L579.4,94.3L582.6,94.1L585.9,94.0L589.3,93.8L592.6,93.7L596.1,93.5L599.5,93.4L603.1,93.3L606.6,93.2L610.2,93.1L613.9,93.0L617.6,92.9L621.3,92.8L625.1,92.7L628.9,92.6L632.8,92.5L636.7,92.4L640.7,92.3L644.7,92.3L648.7,92.2L652.8,92.1L656.9,92.1L661.1,92.0L665.3,91.9L669.5,91.9L673.8,91.8L678.1,91.8L682.5,91.7L686.9,91.7L691.3,91.6L695.8,91.6L700.3,91.5L704.9,91.5L709.5,91.5L714.1,91.4L718.8,91.4L723.5,91.3L728.2,91.3L733.0,91.3L737.8,91.2L742.7,91.2L747.6,91.2L752.5,91.1L757.5,91.1L762.5,91.1L767.5,91.1L772.6,91.0L777.7,91.0L782.8,91.0L788.0,91.0 M499.6,187.7L499.8,187.6L500.3,187.2L500.9,186.5L501.6,185.2L502.5,183.3L503.5,180.8L504.5,177.7L505.7,174.2L507.0,170.5L508.3,166.6L509.8,162.7L511.3,158.9L512.9,155.1L514.6,151.6L516.3,148.2L518.1,145.1L520.0,142.1L522.0,139.3L524.0,136.7L526.1,134.3L528.2,132.0L530.4,129.9L532.7,127.9L535.0,126.1L537.4,124.4L539.9,122.8L542.4,121.3L544.9,119.9L547.6,118.6L550.2,117.4L553.0,116.3L555.7,115.2L558.6,114.2L561.5,113.2L564.4,112.3L567.4,111.5L570.4,110.7L573.5,109.9L576.6,109.2L579.8,108.5L583.1,107.9L586.3,107.3L589.7,106.7L593.0,106.2L596.5,105.7L599.9,105.2L603.4,104.7L607.0,104.2L610.6,103.8L614.2,103.4L617.9,103.0L621.7,102.6L625.4,102.3L629.3,101.9L633.1,101.6L637.0,101.3L641.0,101.0L645.0,100.7L649.0,100.4L653.1,100.2L657.2,99.9L661.3,99.7L665.5,99.4L669.8,99.2L674.0,99.0L678.4,98.8L682.7,98.6L687.1,98.4L691.5,98.2L696.0,98.0L700.5,97.8L705.1,97.6L709.6,97.5L714.3,97.3L718.9,97.2L723.6,97.0L728.4,96.9L733.1,96.7L737.9,96.6L742.8,96.4L747.7,96.3L752.6,96.2L757.5,96.1L762.5,96.0L767.5,95.8L772.6,95.7L777.7,95.6L782.8,95.5L788.0,95.4 M499.6,187.9L499.8,187.9L500.3,187.9L500.9,187.9L501.6,187.9L502.5,187.9L503.5,187.8L504.5,187.7L505.7,187.5L507.0,187.2L508.3,186.6L509.8,185.8L511.3,184.8L512.9,183.5L514.6,182.0L516.3,180.3L518.1,178.5L520.0,176.5L522.0,174.5L524.0,172.3L526.1,170.2L528.2,168.0L530.4,165.8L532.7,163.6L535.0,161.4L537.4,159.3L539.9,157.2L542.4,155.2L544.9,153.2L547.6,151.3L550.2,149.5L553.0,147.7L555.7,146.0L558.6,144.3L561.5,142.7L564.4,141.1L567.4,139.7L570.4,138.2L573.5,136.8L576.6,135.5L579.8,134.2L583.1,133.0L586.3,131.8L589.7,130.7L593.0,129.6L596.5,128.5L599.9,127.5L603.4,126.5L607.0,125.6L610.6,124.7L614.2,123.8L617.9,123.0L621.7,122.2L625.4,121.4L629.3,120.6L633.1,119.9L637.0,119.2L641.0,118.5L645.0,117.9L649.0,117.2L653.1,116.6L657.2,116.0L661.3,115.5L665.5,114.9L669.8,114.4L674.0,113.9L678.4,113.4L682.7,112.9L687.1,112.4L691.5,112.0L696.0,111.5L700.5,111.1L705.1,110.7L709.6,110.3L714.3,109.9L718.9,109.5L723.6,109.1L728.4,108.8L733.1,108.4L737.9,108.1L742.8,107.8L747.7,107.4L752.6,107.1L757.5,106.8L762.5,106.5L767.5,106.3L772.6,106.0L777.7,105.7L782.8,105.4L788.0,105.2 M499.6,187.9L499.8,187.9L500.3,187.9L500.9,187.9L501.6,187.9L502.5,187.9L503.5,187.9L504.5,187.9L505.7,187.9L507.0,187.9L508.3,187.9L509.8,187.8L511.3,187.7L512.9,187.6L514.6,187.3L516.3,187.0L518.1,186.6L520.0,186.0L522.0,185.3L524.0,184.5L526.1,183.6L528.2,182.6L530.4,181.5L532.7,180.3L535.0,179.0L537.4,177.7L539.9,176.3L542.4,174.8L544.9,173.4L547.6,171.9L550.2,170.3L553.0,168.8L555.7,167.3L558.6,165.7L561.5,164.2L564.4,162.7L567.4,161.2L570.4,159.8L573.5,158.3L576.6,156.9L579.8,155.5L583.1,154.1L586.3,152.8L589.7,151.4L593.0,150.1L596.5,148.9L599.9,147.7L603.4,146.5L607.0,145.3L610.6,144.1L614.2,143.0L617.9,141.9L621.7,140.9L625.4,139.9L629.3,138.9L633.1,137.9L637.0,136.9L641.0,136.0L645.0,135.1L649.0,134.2L653.1,133.4L657.2,132.6L661.3,131.7L665.5,131.0L669.8,130.2L674.0,129.4L678.4,128.7L682.7,128.0L687.1,127.3L691.5,126.7L696.0,126.0L700.5,125.4L705.1,124.7L709.6,124.1L714.3,123.5L718.9,123.0L723.6,122.4L728.4,121.9L733.1,121.3L737.9,120.8L742.8,120.3L747.7,119.8L752.6,119.3L757.5,118.9L762.5,118.4L767.5,118.0L772.6,117.5L777.7,117.1L782.8,116.7L788.0,116.3 M499.6,187.9L499.8,187.9L500.3,187.9L500.9,187.9L501.6,187.9L502.5,187.9L503.5,187.9L504.5,187.9L505.7,187.9L507.0,187.9L508.3,187.9L509.8,187.9L511.3,187.9L512.9,187.9L514.6,187.9L516.3,187.9L518.1,187.8L520.0,187.8L522.0,187.7L524.0,187.5L526.1,187.3L528.2,187.1L530.4,186.8L532.7,186.4L535.0,186.0L537.4,185.5L539.9,184.9L542.4,184.3L544.9,183.6L547.6,182.9L550.2,182.1L553.0,181.2L555.7,180.3L558.6,179.4L561.5,178.4L564.4,177.4L567.4,176.3L570.4,175.3L573.5,174.2L576.6,173.1L579.8,172.0L583.1,170.8L586.3,169.7L589.7,168.6L593.0,167.5L596.5,166.3L599.9,165.2L603.4,164.1L607.0,163.0L610.6,161.9L614.2,160.8L617.9,159.7L621.7,158.6L625.4,157.5L629.3,156.5L633.1,155.5L637.0,154.4L641.0,153.4L645.0,152.5L649.0,151.5L653.1,150.5L657.2,149.6L661.3,148.7L665.5,147.8L669.8,146.9L674.0,146.0L678.4,145.1L682.7,144.3L687.1,143.5L691.5,142.7L696.0,141.9L700.5,141.1L705.1,140.3L709.6,139.6L714.3,138.9L718.9,138.1L723.6,137.4L728.4,136.7L733.1,136.1L737.9,135.4L742.8,134.7L747.7,134.1L752.6,133.5L757.5,132.9L762.5,132.3L767.5,131.7L772.6,131.1L777.7,130.5L782.8,130.0L788.0,129.4" fill="none" stroke="#000" stroke-width="1.6" stroke-linejoin="round"/>
<path d="M496.7,31.3L496.7,187.9L788.0,187.9 M493.3,187.9L496.7,187.9 M493.3,170.5L496.7,170.5 M493.3,153.1L496.7,153.1 M493.3,135.7L496.7,135.7 M493.3,118.3L496.7,118.3 M493.3,100.9L496.7,100.9 M493.3,83.5L496.7,83.5 M493.3,66.1L496.7,66.1 M493.3,48.7L496.7,48.7 M493.3,31.3L496.7,31.3 M496.7,187.9L496.7,193.1 M555.0,187.9L555.0,193.1 M613.2,187.9L613.2,193.1 M671.5,187.9L671.5,193.1 M729.7,187.9L729.7,193.1 M788.0,187.9L788.0,193.1" fill="none" stroke="#868686" stroke-width="1.7" stroke-linecap="square"/>
<text x="482.5" y="194.3" text-anchor="end" class="tk">0</text>
<text x="482.5" y="176.9" text-anchor="end" class="tk">2</text>
<text x="482.5" y="159.5" text-anchor="end" class="tk">4</text>
<text x="482.5" y="142.1" text-anchor="end" class="tk">6</text>
<text x="482.5" y="124.7" text-anchor="end" class="tk">8</text>
<text x="482.5" y="107.3" text-anchor="end" class="tk">10</text>
<text x="482.5" y="89.9" text-anchor="end" class="tk">12</text>
<text x="482.5" y="72.5" text-anchor="end" class="tk">14</text>
<text x="482.5" y="55.1" text-anchor="end" class="tk">16</text>
<text x="482.5" y="37.7" text-anchor="end" class="tk">18</text>
<text x="496.7" y="213.3" text-anchor="middle" class="tk">0</text>
<text x="555.0" y="213.3" text-anchor="middle" class="tk">20</text>
<text x="613.2" y="213.3" text-anchor="middle" class="tk">40</text>
<text x="671.5" y="213.3" text-anchor="middle" class="tk">60</text>
<text x="729.7" y="213.3" text-anchor="middle" class="tk">80</text>
<text x="788.0" y="213.3" text-anchor="middle" class="tk">100</text>
<text x="585.1" y="24.5" textLength="153.6" lengthAdjust="spacingAndGlyphs" class="tt">b) Model 2 / Modelo 2</text>
<text x="663.2" y="235.5" text-anchor="middle" class="xl">Age (years) / Edad (a&#241;os)</text>
<text transform="translate(454.6,111.2) rotate(-90)" text-anchor="middle" class="yl">Height (m) / Altura (m)</text>
</g>
<g>
<use href="#gd" transform="translate(120.60,431.90) scale(2.9240,8.6611)"/>
<path d="M122.1,431.0L122.3,430.9L122.7,430.5L123.3,430.1L124.1,429.4L125.0,428.7L126.0,427.8L127.0,426.8L128.2,425.6L129.5,424.4L130.9,423.0L132.3,421.6L133.9,420.0L135.5,418.3L137.1,416.6L138.9,414.8L140.7,412.9L142.6,410.9L144.6,408.9L146.7,406.8L148.8,404.6L150.9,402.5L153.2,400.2L155.4,398.0L157.8,395.7L160.2,393.4L162.7,391.1L165.2,388.7L167.8,386.4L170.4,384.0L173.1,381.7L175.9,379.3L178.7,377.0L181.5,374.7L184.5,372.4L187.4,370.1L190.4,367.8L193.5,365.6L196.6,363.3L199.8,361.2L203.0,359.0L206.2,356.9L209.6,354.8L212.9,352.8L216.3,350.8L219.8,348.8L223.3,346.9L226.8,345.0L230.4,343.2L234.0,341.4L237.7,339.6L241.4,337.9L245.2,336.3L249.0,334.7L252.9,333.1L256.8,331.6L260.7,330.1L264.7,328.7L268.7,327.3L272.8,326.0L276.9,324.7L281.0,323.4L285.2,322.2L289.4,321.1L293.7,320.0L298.0,318.9L302.4,317.8L306.8,316.8L311.2,315.9L315.7,315.0L320.2,314.1L324.7,313.2L329.3,312.4L333.9,311.6L338.6,310.9L343.3,310.2L348.0,309.5L352.8,308.8L357.6,308.2L362.5,307.6L367.4,307.0L372.3,306.5L377.3,306.0L382.3,305.5L387.3,305.0L392.4,304.6L397.5,304.1L402.6,303.7L407.8,303.3L413.0,303.0 M122.1,431.2L122.3,431.1L122.7,430.8L123.3,430.4L124.1,429.8L125.0,429.2L126.0,428.5L127.0,427.6L128.2,426.7L129.5,425.6L130.9,424.5L132.3,423.3L133.9,422.0L135.5,420.6L137.1,419.1L138.9,417.6L140.7,416.0L142.6,414.4L144.6,412.7L146.7,411.0L148.8,409.2L150.9,407.4L153.2,405.5L155.4,403.6L157.8,401.7L160.2,399.8L162.7,397.9L165.2,395.9L167.8,394.0L170.4,392.0L173.1,390.0L175.9,388.1L178.7,386.1L181.5,384.2L184.5,382.3L187.4,380.4L190.4,378.5L193.5,376.6L196.6,374.8L199.8,373.0L203.0,371.2L206.2,369.4L209.6,367.7L212.9,366.0L216.3,364.3L219.8,362.7L223.3,361.1L226.8,359.5L230.4,358.0L234.0,356.5L237.7,355.0L241.4,353.6L245.2,352.2L249.0,350.9L252.9,349.6L256.8,348.3L260.7,347.1L264.7,345.9L268.7,344.8L272.8,343.6L276.9,342.6L281.0,341.5L285.2,340.5L289.4,339.6L293.7,338.6L298.0,337.7L302.4,336.9L306.8,336.0L311.2,335.2L315.7,334.5L320.2,333.7L324.7,333.0L329.3,332.3L333.9,331.7L338.6,331.1L343.3,330.5L348.0,329.9L352.8,329.3L357.6,328.8L362.5,328.3L367.4,327.8L372.3,327.4L377.3,327.0L382.3,326.6L387.3,326.2L392.4,325.8L397.5,325.4L402.6,325.1L407.8,324.8L413.0,324.5 M122.1,431.3L122.3,431.2L122.7,431.0L123.3,430.7L124.1,430.3L125.0,429.8L126.0,429.2L127.0,428.5L128.2,427.7L129.5,426.9L130.9,426.0L132.3,425.0L133.9,424.0L135.5,422.9L137.1,421.7L138.9,420.5L140.7,419.2L142.6,417.9L144.6,416.5L146.7,415.2L148.8,413.7L150.9,412.3L153.2,410.8L155.4,409.3L157.8,407.8L160.2,406.2L162.7,404.7L165.2,403.1L167.8,401.6L170.4,400.0L173.1,398.4L175.9,396.9L178.7,395.3L181.5,393.7L184.5,392.2L187.4,390.7L190.4,389.2L193.5,387.7L196.6,386.2L199.8,384.7L203.0,383.3L206.2,381.9L209.6,380.5L212.9,379.1L216.3,377.8L219.8,376.5L223.3,375.2L226.8,374.0L230.4,372.7L234.0,371.6L237.7,370.4L241.4,369.3L245.2,368.2L249.0,367.1L252.9,366.0L256.8,365.0L260.7,364.1L264.7,363.1L268.7,362.2L272.8,361.3L276.9,360.4L281.0,359.6L285.2,358.8L289.4,358.0L293.7,357.3L298.0,356.6L302.4,355.9L306.8,355.2L311.2,354.6L315.7,353.9L320.2,353.4L324.7,352.8L329.3,352.2L333.9,351.7L338.6,351.2L343.3,350.7L348.0,350.3L352.8,349.9L357.6,349.4L362.5,349.0L367.4,348.7L372.3,348.3L377.3,348.0L382.3,347.6L387.3,347.3L392.4,347.0L397.5,346.7L402.6,346.5L407.8,346.2L413.0,346.0 M122.1,431.5L122.3,431.4L122.7,431.2L123.3,431.0L124.1,430.7L125.0,430.3L126.0,429.8L127.0,429.3L128.2,428.8L129.5,428.1L130.9,427.5L132.3,426.7L133.9,426.0L135.5,425.1L137.1,424.2L138.9,423.3L140.7,422.4L142.6,421.4L144.6,420.4L146.7,419.3L148.8,418.3L150.9,417.2L153.2,416.1L155.4,414.9L157.8,413.8L160.2,412.6L162.7,411.5L165.2,410.3L167.8,409.1L170.4,408.0L173.1,406.8L175.9,405.6L178.7,404.4L181.5,403.3L184.5,402.1L187.4,401.0L190.4,399.9L193.5,398.7L196.6,397.6L199.8,396.5L203.0,395.5L206.2,394.4L209.6,393.4L212.9,392.3L216.3,391.3L219.8,390.4L223.3,389.4L226.8,388.5L230.4,387.5L234.0,386.6L237.7,385.8L241.4,384.9L245.2,384.1L249.0,383.3L252.9,382.5L256.8,381.7L260.7,381.0L264.7,380.3L268.7,379.6L272.8,378.9L276.9,378.3L281.0,377.7L285.2,377.1L289.4,376.5L293.7,375.9L298.0,375.4L302.4,374.9L306.8,374.4L311.2,373.9L315.7,373.4L320.2,373.0L324.7,372.6L329.3,372.2L333.9,371.8L338.6,371.4L343.3,371.0L348.0,370.7L352.8,370.4L357.6,370.1L362.5,369.8L367.4,369.5L372.3,369.2L377.3,368.9L382.3,368.7L387.3,368.5L392.4,368.2L397.5,368.0L402.6,367.8L407.8,367.6L413.0,367.4 M122.1,431.6L122.3,431.6L122.7,431.4L123.3,431.3L124.1,431.1L125.0,430.8L126.0,430.5L127.0,430.2L128.2,429.8L129.5,429.4L130.9,428.9L132.3,428.5L133.9,427.9L135.5,427.4L137.1,426.8L138.9,426.2L140.7,425.6L142.6,424.9L144.6,424.2L146.7,423.5L148.8,422.8L150.9,422.1L153.2,421.3L155.4,420.6L157.8,419.8L160.2,419.1L162.7,418.3L165.2,417.5L167.8,416.7L170.4,415.9L173.1,415.2L175.9,414.4L178.7,413.6L181.5,412.8L184.5,412.1L187.4,411.3L190.4,410.5L193.5,409.8L196.6,409.0L199.8,408.3L203.0,407.6L206.2,406.9L209.6,406.2L212.9,405.5L216.3,404.9L219.8,404.2L223.3,403.6L226.8,402.9L230.4,402.3L234.0,401.7L237.7,401.1L241.4,400.6L245.2,400.0L249.0,399.5L252.9,399.0L256.8,398.5L260.7,398.0L264.7,397.5L268.7,397.0L272.8,396.6L276.9,396.2L281.0,395.7L285.2,395.3L289.4,395.0L293.7,394.6L298.0,394.2L302.4,393.9L306.8,393.5L311.2,393.2L315.7,392.9L320.2,392.6L324.7,392.3L329.3,392.1L333.9,391.8L338.6,391.6L343.3,391.3L348.0,391.1L352.8,390.9L357.6,390.7L362.5,390.5L367.4,390.3L372.3,390.1L377.3,389.9L382.3,389.8L387.3,389.6L392.4,389.5L397.5,389.3L402.6,389.2L407.8,389.0L413.0,388.9" fill="none" stroke="#000" stroke-width="1.6" stroke-linejoin="round"/>
<path d="M120.6,276.0L120.6,431.9L413.0,431.9 M117.2,431.9L120.6,431.9 M117.2,414.6L120.6,414.6 M117.2,397.3L120.6,397.3 M117.2,379.9L120.6,379.9 M117.2,362.6L120.6,362.6 M117.2,345.3L120.6,345.3 M117.2,328.0L120.6,328.0 M117.2,310.6L120.6,310.6 M117.2,293.3L120.6,293.3 M117.2,276.0L120.6,276.0 M120.6,431.9L120.6,437.1 M179.1,431.9L179.1,437.1 M237.6,431.9L237.6,437.1 M296.0,431.9L296.0,437.1 M354.5,431.9L354.5,437.1 M413.0,431.9L413.0,437.1" fill="none" stroke="#868686" stroke-width="1.7" stroke-linecap="square"/>
<text x="106.4" y="438.3" text-anchor="end" class="tk">0</text>
<text x="106.4" y="421.0" text-anchor="end" class="tk">2</text>
<text x="106.4" y="403.7" text-anchor="end" class="tk">4</text>
<text x="106.4" y="386.3" text-anchor="end" class="tk">6</text>
<text x="106.4" y="369.0" text-anchor="end" class="tk">8</text>
<text x="106.4" y="351.7" text-anchor="end" class="tk">10</text>
<text x="106.4" y="334.4" text-anchor="end" class="tk">12</text>
<text x="106.4" y="317.0" text-anchor="end" class="tk">14</text>
<text x="106.4" y="299.7" text-anchor="end" class="tk">16</text>
<text x="106.4" y="282.4" text-anchor="end" class="tk">18</text>
<text x="120.6" y="457.3" text-anchor="middle" class="tk">0</text>
<text x="179.1" y="457.3" text-anchor="middle" class="tk">20</text>
<text x="237.6" y="457.3" text-anchor="middle" class="tk">40</text>
<text x="296.0" y="457.3" text-anchor="middle" class="tk">60</text>
<text x="354.5" y="457.3" text-anchor="middle" class="tk">80</text>
<text x="413.0" y="457.3" text-anchor="middle" class="tk">100</text>
<text x="204.6" y="270.4" textLength="152.8" lengthAdjust="spacingAndGlyphs" class="tt">c) Model 3 / Modelo 3</text>
<text x="280.2" y="477.9" text-anchor="middle" class="xl">Age (years) / Edad (a&#241;os)</text>
<text transform="translate(78.5,353.5) rotate(-90)" text-anchor="middle" class="yl">Height (m) / Altura (m)</text>
</g>
<g>
<use href="#gd" transform="translate(495.00,430.00) scale(2.9300,8.5556)"/>
<path d="M497.9,426.6L498.2,426.3L498.6,425.8L499.2,425.0L500.0,424.0L500.8,422.9L501.8,421.7L502.9,420.3L504.1,418.8L505.3,417.2L506.7,415.5L508.2,413.7L509.7,411.8L511.3,409.8L513.0,407.8L514.7,405.7L516.6,403.6L518.5,401.4L520.4,399.2L522.4,397.0L524.5,394.7L526.7,392.4L528.9,390.1L531.2,387.8L533.6,385.5L536.0,383.2L538.4,380.9L540.9,378.7L543.5,376.4L546.2,374.2L548.8,372.0L551.6,369.8L554.4,367.6L557.2,365.5L560.1,363.4L563.1,361.4L566.1,359.3L569.1,357.4L572.3,355.4L575.4,353.6L578.6,351.7L581.9,349.9L585.2,348.2L588.5,346.5L591.9,344.8L595.3,343.2L598.8,341.7L602.4,340.2L605.9,338.7L609.6,337.3L613.2,335.9L616.9,334.6L620.7,333.4L624.5,332.1L628.3,331.0L632.2,329.8L636.2,328.7L640.1,327.7L644.1,326.7L648.2,325.7L652.3,324.8L656.4,323.9L660.6,323.1L664.8,322.2L669.1,321.5L673.4,320.7L677.7,320.0L682.1,319.4L686.5,318.7L691.0,318.1L695.5,317.5L700.0,317.0L704.6,316.4L709.2,315.9L713.8,315.5L718.5,315.0L723.2,314.6L728.0,314.2L732.8,313.8L737.6,313.5L742.5,313.1L747.4,312.8L752.4,312.5L757.4,312.2L762.4,311.9L767.4,311.7L772.5,311.4L777.6,311.2L782.8,311.0L788.0,310.8 M497.9,427.8L498.2,427.6L498.6,427.3L499.2,426.8L500.0,426.1L500.8,425.4L501.8,424.6L502.9,423.7L504.1,422.7L505.3,421.6L506.7,420.4L508.2,419.2L509.7,417.9L511.3,416.5L513.0,415.1L514.7,413.7L516.6,412.2L518.5,410.6L520.4,409.0L522.4,407.4L524.5,405.8L526.7,404.1L528.9,402.4L531.2,400.6L533.6,398.9L536.0,397.1L538.4,395.3L540.9,393.5L543.5,391.7L546.2,389.9L548.8,388.1L551.6,386.3L554.4,384.5L557.2,382.7L560.1,380.9L563.1,379.1L566.1,377.4L569.1,375.6L572.3,373.9L575.4,372.1L578.6,370.4L581.9,368.7L585.2,367.0L588.5,365.4L591.9,363.8L595.3,362.1L598.8,360.6L602.4,359.0L605.9,357.5L609.6,356.0L613.2,354.5L616.9,353.0L620.7,351.6L624.5,350.2L628.3,348.8L632.2,347.5L636.2,346.2L640.1,344.9L644.1,343.6L648.2,342.4L652.3,341.2L656.4,340.0L660.6,338.9L664.8,337.8L669.1,336.7L673.4,335.7L677.7,334.6L682.1,333.6L686.5,332.7L691.0,331.7L695.5,330.8L700.0,330.0L704.6,329.1L709.2,328.3L713.8,327.5L718.5,326.7L723.2,325.9L728.0,325.2L732.8,324.5L737.6,323.8L742.5,323.2L747.4,322.5L752.4,321.9L757.4,321.3L762.4,320.7L767.4,320.2L772.5,319.7L777.6,319.1L782.8,318.6L788.0,318.2 M497.9,428.5L498.2,428.4L498.6,428.1L499.2,427.8L500.0,427.4L500.8,426.9L501.8,426.3L502.9,425.7L504.1,425.0L505.3,424.3L506.7,423.5L508.2,422.6L509.7,421.7L511.3,420.8L513.0,419.8L514.7,418.7L516.6,417.7L518.5,416.6L520.4,415.4L522.4,414.2L524.5,413.0L526.7,411.8L528.9,410.6L531.2,409.3L533.6,408.0L536.0,406.6L538.4,405.3L540.9,403.9L543.5,402.6L546.2,401.2L548.8,399.8L551.6,398.4L554.4,396.9L557.2,395.5L560.1,394.1L563.1,392.6L566.1,391.2L569.1,389.7L572.3,388.3L575.4,386.8L578.6,385.4L581.9,384.0L585.2,382.5L588.5,381.1L591.9,379.7L595.3,378.2L598.8,376.8L602.4,375.4L605.9,374.0L609.6,372.6L613.2,371.3L616.9,369.9L620.7,368.5L624.5,367.2L628.3,365.9L632.2,364.6L636.2,363.3L640.1,362.0L644.1,360.7L648.2,359.5L652.3,358.2L656.4,357.0L660.6,355.8L664.8,354.6L669.1,353.5L673.4,352.3L677.7,351.2L682.1,350.1L686.5,349.0L691.0,347.9L695.5,346.9L700.0,345.8L704.6,344.8L709.2,343.8L713.8,342.8L718.5,341.8L723.2,340.9L728.0,340.0L732.8,339.1L737.6,338.2L742.5,337.3L747.4,336.5L752.4,335.6L757.4,334.8L762.4,334.0L767.4,333.2L772.5,332.5L777.6,331.7L782.8,331.0L788.0,330.3 M497.9,429.0L498.2,428.9L498.6,428.8L499.2,428.6L500.0,428.3L500.8,428.0L501.8,427.6L502.9,427.2L504.1,426.7L505.3,426.2L506.7,425.7L508.2,425.1L509.7,424.5L511.3,423.9L513.0,423.2L514.7,422.5L516.6,421.8L518.5,421.0L520.4,420.2L522.4,419.4L524.5,418.6L526.7,417.7L528.9,416.8L531.2,415.9L533.6,415.0L536.0,414.1L538.4,413.1L540.9,412.1L543.5,411.1L546.2,410.1L548.8,409.1L551.6,408.1L554.4,407.0L557.2,406.0L560.1,404.9L563.1,403.8L566.1,402.7L569.1,401.6L572.3,400.5L575.4,399.4L578.6,398.3L581.9,397.2L585.2,396.1L588.5,394.9L591.9,393.8L595.3,392.7L598.8,391.5L602.4,390.4L605.9,389.2L609.6,388.1L613.2,387.0L616.9,385.8L620.7,384.7L624.5,383.6L628.3,382.4L632.2,381.3L636.2,380.2L640.1,379.1L644.1,377.9L648.2,376.8L652.3,375.7L656.4,374.6L660.6,373.5L664.8,372.4L669.1,371.4L673.4,370.3L677.7,369.2L682.1,368.2L686.5,367.1L691.0,366.1L695.5,365.0L700.0,364.0L704.6,363.0L709.2,362.0L713.8,361.0L718.5,360.0L723.2,359.0L728.0,358.1L732.8,357.1L737.6,356.2L742.5,355.2L747.4,354.3L752.4,353.4L757.4,352.5L762.4,351.6L767.4,350.7L772.5,349.8L777.6,349.0L782.8,348.1L788.0,347.3 M497.9,429.4L498.2,429.4L498.6,429.3L499.2,429.1L500.0,429.0L500.8,428.8L501.8,428.6L502.9,428.3L504.1,428.0L505.3,427.7L506.7,427.4L508.2,427.1L509.7,426.7L511.3,426.3L513.0,425.9L514.7,425.5L516.6,425.0L518.5,424.5L520.4,424.1L522.4,423.6L524.5,423.0L526.7,422.5L528.9,421.9L531.2,421.4L533.6,420.8L536.0,420.2L538.4,419.6L540.9,419.0L543.5,418.3L546.2,417.7L548.8,417.0L551.6,416.3L554.4,415.7L557.2,415.0L560.1,414.3L563.1,413.5L566.1,412.8L569.1,412.1L572.3,411.3L575.4,410.6L578.6,409.8L581.9,409.1L585.2,408.3L588.5,407.5L591.9,406.7L595.3,405.9L598.8,405.1L602.4,404.3L605.9,403.5L609.6,402.7L613.2,401.9L616.9,401.1L620.7,400.2L624.5,399.4L628.3,398.6L632.2,397.7L636.2,396.9L640.1,396.1L644.1,395.2L648.2,394.4L652.3,393.5L656.4,392.7L660.6,391.8L664.8,391.0L669.1,390.1L673.4,389.3L677.7,388.4L682.1,387.6L686.5,386.7L691.0,385.9L695.5,385.0L700.0,384.2L704.6,383.4L709.2,382.5L713.8,381.7L718.5,380.8L723.2,380.0L728.0,379.2L732.8,378.3L737.6,377.5L742.5,376.7L747.4,375.8L752.4,375.0L757.4,374.2L762.4,373.4L767.4,372.6L772.5,371.8L777.6,371.0L782.8,370.2L788.0,369.4" fill="none" stroke="#000" stroke-width="1.6" stroke-linejoin="round"/>
<path d="M495.0,276.0L495.0,430.0L788.0,430.0 M491.6,430.0L495.0,430.0 M491.6,412.9L495.0,412.9 M491.6,395.8L495.0,395.8 M491.6,378.7L495.0,378.7 M491.6,361.6L495.0,361.6 M491.6,344.4L495.0,344.4 M491.6,327.3L495.0,327.3 M491.6,310.2L495.0,310.2 M491.6,293.1L495.0,293.1 M491.6,276.0L495.0,276.0 M495.0,430.0L495.0,435.2 M553.6,430.0L553.6,435.2 M612.2,430.0L612.2,435.2 M670.8,430.0L670.8,435.2 M729.4,430.0L729.4,435.2 M788.0,430.0L788.0,435.2" fill="none" stroke="#868686" stroke-width="1.7" stroke-linecap="square"/>
<text x="480.8" y="436.4" text-anchor="end" class="tk">0</text>
<text x="480.8" y="419.3" text-anchor="end" class="tk">2</text>
<text x="480.8" y="402.2" text-anchor="end" class="tk">4</text>
<text x="480.8" y="385.1" text-anchor="end" class="tk">6</text>
<text x="480.8" y="368.0" text-anchor="end" class="tk">8</text>
<text x="480.8" y="350.8" text-anchor="end" class="tk">10</text>
<text x="480.8" y="333.7" text-anchor="end" class="tk">12</text>
<text x="480.8" y="316.6" text-anchor="end" class="tk">14</text>
<text x="480.8" y="299.5" text-anchor="end" class="tk">16</text>
<text x="480.8" y="282.4" text-anchor="end" class="tk">18</text>
<text x="495.0" y="455.4" text-anchor="middle" class="tk">0</text>
<text x="553.6" y="455.4" text-anchor="middle" class="tk">20</text>
<text x="612.2" y="455.4" text-anchor="middle" class="tk">40</text>
<text x="670.8" y="455.4" text-anchor="middle" class="tk">60</text>
<text x="729.4" y="455.4" text-anchor="middle" class="tk">80</text>
<text x="788.0" y="455.4" text-anchor="middle" class="tk">100</text>
<text x="584.5" y="270.4" textLength="154.2" lengthAdjust="spacingAndGlyphs" class="tt">d) Model 4 / Modelo 4</text>
<text x="663.2" y="477.4" text-anchor="middle" class="xl">Age (years) / Edad (a&#241;os)</text>
<text transform="translate(452.9,353.0) rotate(-90)" text-anchor="middle" class="yl">Height (m) / Altura (m)</text>
</g>
<g>
<use href="#gd" transform="translate(120.70,676.10) scale(2.9260,8.6722)"/>
<path d="M123.6,654.9L123.8,654.2L124.3,652.8L124.9,651.1L125.6,649.2L126.5,647.2L127.5,645.1L128.6,643.0L129.8,640.9L131.0,638.8L132.4,636.7L133.8,634.7L135.4,632.6L137.0,630.6L138.6,628.7L140.4,626.7L142.2,624.8L144.1,622.9L146.1,621.1L148.1,619.2L150.2,617.5L152.4,615.7L154.6,614.0L156.9,612.3L159.2,610.6L161.6,608.9L164.1,607.3L166.6,605.7L169.2,604.2L171.8,602.6L174.5,601.1L177.2,599.7L180.0,598.2L182.9,596.8L185.7,595.5L188.7,594.1L191.7,592.8L194.7,591.5L197.8,590.3L201.0,589.1L204.2,587.9L207.4,586.8L210.7,585.7L214.1,584.6L217.5,583.6L220.9,582.6L224.4,581.6L227.9,580.7L231.5,579.8L235.1,578.9L238.8,578.0L242.5,577.2L246.2,576.3L250.0,575.5L253.9,574.7L257.7,573.9L261.7,573.1L265.6,572.3L269.6,571.5L273.7,570.8L277.8,570.0L281.9,569.3L286.1,568.6L290.3,567.9L294.5,567.2L298.8,566.5L303.2,565.9L307.5,565.3L311.9,564.7L316.4,564.1L320.9,563.5L325.4,562.9L330.0,562.4L334.6,561.8L339.2,561.3L343.9,560.8L348.6,560.3L353.4,559.8L358.2,559.3L363.0,558.9L367.9,558.4L372.8,558.0L377.7,557.6L382.7,557.2L387.7,556.8L392.8,556.4L397.8,556.0L403.0,555.7L408.1,555.3L413.3,555.0 M123.6,671.1L123.8,670.8L124.3,670.2L124.9,669.4L125.6,668.4L126.5,667.3L127.5,666.0L128.6,664.6L129.8,663.6L131.0,662.8L132.4,661.9L133.8,660.6L135.4,658.8L137.0,656.7L138.6,654.9L140.4,653.3L142.2,651.7L144.1,650.0L146.1,648.3L148.1,646.7L150.2,644.9L152.4,643.2L154.6,641.5L156.9,639.7L159.2,638.0L161.6,636.2L164.1,634.5L166.6,632.7L169.2,630.9L171.8,629.2L174.5,627.4L177.2,625.7L180.0,624.0L182.9,622.3L185.7,620.6L188.7,618.9L191.7,617.3L194.7,615.7L197.8,614.1L201.0,612.6L204.2,611.1L207.4,609.6L210.7,608.2L214.1,606.8L217.5,605.4L220.9,604.1L224.4,602.8L227.9,601.6L231.5,600.3L235.1,599.1L238.8,597.9L242.5,596.8L246.2,595.6L250.0,594.4L253.9,593.3L257.7,592.1L261.7,591.0L265.6,589.8L269.6,588.6L273.7,587.5L277.8,586.3L281.9,585.2L286.1,584.1L290.3,583.1L294.5,582.0L298.8,581.0L303.2,580.0L307.5,579.0L311.9,578.0L316.4,577.1L320.9,576.2L325.4,575.3L330.0,574.4L334.6,573.5L339.2,572.7L343.9,571.9L348.6,571.0L353.4,570.3L358.2,569.5L363.0,568.7L367.9,568.0L372.8,567.3L377.7,566.6L382.7,565.9L387.7,565.3L392.8,564.6L397.8,564.0L403.0,563.4L408.1,562.8L413.3,562.2 M123.6,675.2L123.8,675.2L124.3,675.0L124.9,674.8L125.6,674.5L126.5,674.1L127.5,673.7L128.6,673.2L129.8,672.6L131.0,672.0L132.4,671.4L133.8,670.7L135.4,669.9L137.0,669.0L138.6,668.1L140.4,667.2L142.2,666.2L144.1,665.1L146.1,663.9L148.1,662.8L150.2,661.5L152.4,660.2L154.6,658.9L156.9,657.5L159.2,656.1L161.6,654.6L164.1,653.1L166.6,651.5L169.2,649.9L171.8,648.3L174.5,646.7L177.2,645.1L180.0,643.5L182.9,641.8L185.7,640.2L188.7,638.5L191.7,636.9L194.7,635.3L197.8,633.7L201.0,632.1L204.2,630.6L207.4,629.1L210.7,627.6L214.1,626.1L217.5,624.7L220.9,623.3L224.4,621.9L227.9,620.6L231.5,619.3L235.1,618.0L238.8,616.7L242.5,615.4L246.2,614.1L250.0,612.7L253.9,611.4L257.7,610.0L261.7,608.6L265.6,607.2L269.6,605.8L273.7,604.3L277.8,602.9L281.9,601.5L286.1,600.1L290.3,598.8L294.5,597.4L298.8,596.1L303.2,594.8L307.5,593.5L311.9,592.3L316.4,591.0L320.9,589.8L325.4,588.6L330.0,587.4L334.6,586.2L339.2,585.1L343.9,584.0L348.6,582.9L353.4,581.8L358.2,580.7L363.0,579.7L367.9,578.7L372.8,577.7L377.7,576.7L382.7,575.8L387.7,574.8L392.8,573.9L397.8,573.0L403.0,572.2L408.1,571.3L413.3,570.5 M123.6,676.0L123.8,676.0L124.3,676.0L124.9,675.9L125.6,675.9L126.5,675.8L127.5,675.7L128.6,675.6L129.8,675.4L131.0,675.3L132.4,675.1L133.8,674.8L135.4,674.5L137.0,674.2L138.6,673.8L140.4,673.4L142.2,673.0L144.1,672.4L146.1,671.9L148.1,671.3L150.2,670.6L152.4,669.9L154.6,669.1L156.9,668.3L159.2,667.4L161.6,666.5L164.1,665.5L166.6,664.5L169.2,663.4L171.8,662.3L174.5,661.1L177.2,659.9L180.0,658.7L182.9,657.5L185.7,656.2L188.7,654.9L191.7,653.6L194.7,652.3L197.8,650.9L201.0,649.6L204.2,648.3L207.4,646.9L210.7,645.6L214.1,644.2L217.5,642.9L220.9,641.6L224.4,640.2L227.9,638.9L231.5,637.5L235.1,636.2L238.8,634.8L242.5,633.4L246.2,632.0L250.0,630.6L253.9,629.2L257.7,627.7L261.7,626.2L265.6,624.6L269.6,623.0L273.7,621.5L277.8,619.9L281.9,618.3L286.1,616.8L290.3,615.2L294.5,613.7L298.8,612.1L303.2,610.6L307.5,609.1L311.9,607.6L316.4,606.1L320.9,604.6L325.4,603.2L330.0,601.7L334.6,600.3L339.2,598.9L343.9,597.5L348.6,596.2L353.4,594.8L358.2,593.5L363.0,592.2L367.9,590.9L372.8,589.6L377.7,588.4L382.7,587.2L387.7,586.0L392.8,584.8L397.8,583.6L403.0,582.5L408.1,581.4L413.3,580.3 M123.6,676.1L123.8,676.1L124.3,676.1L124.9,676.1L125.6,676.1L126.5,676.1L127.5,676.1L128.6,676.1L129.8,676.0L131.0,676.0L132.4,676.0L133.8,675.9L135.4,675.9L137.0,675.8L138.6,675.7L140.4,675.6L142.2,675.5L144.1,675.3L146.1,675.1L148.1,674.9L150.2,674.7L152.4,674.4L154.6,674.1L156.9,673.8L159.2,673.4L161.6,673.0L164.1,672.6L166.6,672.1L169.2,671.6L171.8,671.0L174.5,670.4L177.2,669.8L180.0,669.1L182.9,668.4L185.7,667.7L188.7,666.9L191.7,666.1L194.7,665.2L197.8,664.4L201.0,663.4L204.2,662.5L207.4,661.5L210.7,660.5L214.1,659.5L217.5,658.5L220.9,657.4L224.4,656.3L227.9,655.1L231.5,654.0L235.1,652.8L238.8,651.5L242.5,650.3L246.2,649.0L250.0,647.6L253.9,646.3L257.7,644.9L261.7,643.4L265.6,641.9L269.6,640.4L273.7,638.9L277.8,637.3L281.9,635.8L286.1,634.2L290.3,632.6L294.5,631.0L298.8,629.4L303.2,627.8L307.5,626.2L311.9,624.5L316.4,622.9L320.9,621.3L325.4,619.7L330.0,618.1L334.6,616.5L339.2,614.9L343.9,613.3L348.6,611.7L353.4,610.2L358.2,608.6L363.0,607.1L367.9,605.6L372.8,604.0L377.7,602.5L382.7,601.1L387.7,599.6L392.8,598.2L397.8,596.7L403.0,595.3L408.1,594.0L413.3,592.6" fill="none" stroke="#000" stroke-width="1.6" stroke-linejoin="round"/>
<path d="M120.7,520.0L120.7,676.1L413.3,676.1 M117.3,676.1L120.7,676.1 M117.3,658.8L120.7,658.8 M117.3,641.4L120.7,641.4 M117.3,624.1L120.7,624.1 M117.3,606.7L120.7,606.7 M117.3,589.4L120.7,589.4 M117.3,572.0L120.7,572.0 M117.3,554.7L120.7,554.7 M117.3,537.3L120.7,537.3 M117.3,520.0L120.7,520.0 M120.7,676.1L120.7,681.3 M179.2,676.1L179.2,681.3 M237.7,676.1L237.7,681.3 M296.3,676.1L296.3,681.3 M354.8,676.1L354.8,681.3 M413.3,676.1L413.3,681.3" fill="none" stroke="#868686" stroke-width="1.7" stroke-linecap="square"/>
<text x="106.5" y="682.5" text-anchor="end" class="tk">0</text>
<text x="106.5" y="665.2" text-anchor="end" class="tk">2</text>
<text x="106.5" y="647.8" text-anchor="end" class="tk">4</text>
<text x="106.5" y="630.5" text-anchor="end" class="tk">6</text>
<text x="106.5" y="613.1" text-anchor="end" class="tk">8</text>
<text x="106.5" y="595.8" text-anchor="end" class="tk">10</text>
<text x="106.5" y="578.4" text-anchor="end" class="tk">12</text>
<text x="106.5" y="561.1" text-anchor="end" class="tk">14</text>
<text x="106.5" y="543.7" text-anchor="end" class="tk">16</text>
<text x="106.5" y="526.4" text-anchor="end" class="tk">18</text>
<text x="120.7" y="701.5" text-anchor="middle" class="tk">0</text>
<text x="179.2" y="701.5" text-anchor="middle" class="tk">20</text>
<text x="237.7" y="701.5" text-anchor="middle" class="tk">40</text>
<text x="296.3" y="701.5" text-anchor="middle" class="tk">60</text>
<text x="354.8" y="701.5" text-anchor="middle" class="tk">80</text>
<text x="413.3" y="701.5" text-anchor="middle" class="tk">100</text>
<text x="204.6" y="519.9" textLength="153.6" lengthAdjust="spacingAndGlyphs" class="tt">e) Model&#160;&#160;5 /Modelo 5</text>
<text x="284.1" y="723.6" text-anchor="middle" class="xl">Age (years) / Edad (a&#241;os)</text>
<text transform="translate(78.6,598.2) rotate(-90)" text-anchor="middle" class="yl">Height (m) / Altura (m)</text>
</g>
</svg>
<div class="cl" style="left:7.2px;top:754.5px;word-spacing:0.28px">Figure 1. Family of site index curves (SI 4, 6, 8, 10 and 12 m) of <i>Juniperus deppeana</i>, generated with models by the</div>
<div class="cl" style="left:81.5px;top:776.2px;word-spacing:-0.01px">algebraic difference approach (see Table 1) at a base age of 50 years old.</div>
<div class="cl" style="left:7.2px;top:797.1px;word-spacing:1.88px">Figura 1. Familia de curvas de &#237;ndice de sitio (IS 4, 6, 8, 10 y 12 m) de <i>Juniperus deppeana</i>, generadas con los</div>
<div class="cl" style="left:81.5px;top:818.2px;word-spacing:0.45px">modelos por el m&#233;todo de diferencias algebraicas (ver Cuadro 1) a una edad de referencia de 50 a&#241;os.</div>
</body></html>
